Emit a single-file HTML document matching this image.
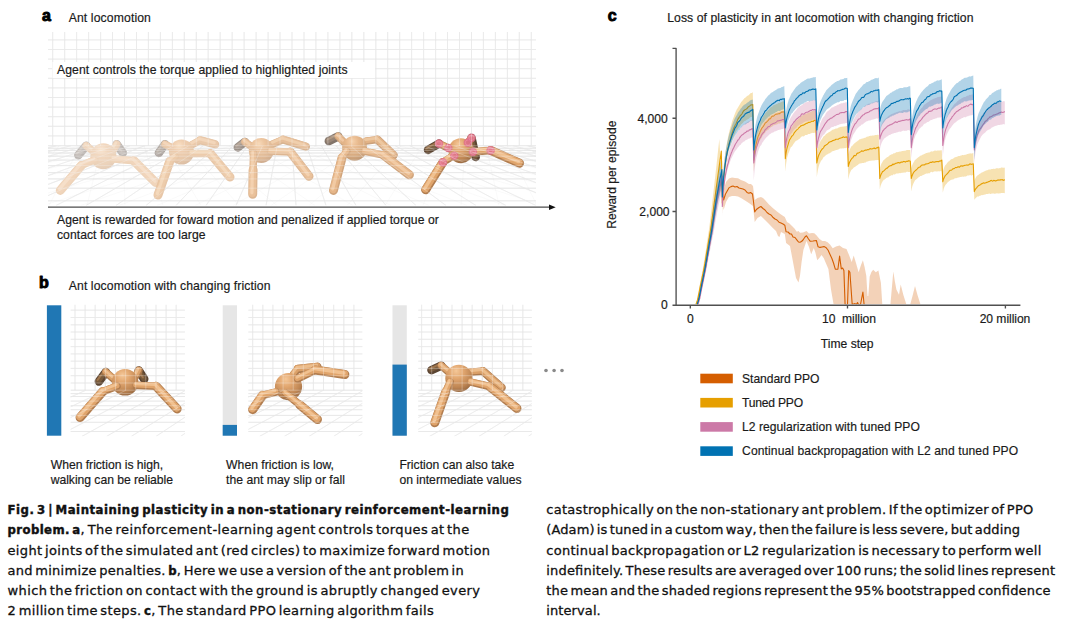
<!DOCTYPE html>
<html lang="en"><head><meta charset="utf-8"><title>Fig. 3 | Maintaining plasticity in a non-stationary reinforcement-learning problem</title>
<style>html,body{margin:0;padding:0;background:#fff}body{width:1080px;height:639px;overflow:hidden;position:relative}svg{position:absolute;left:0;top:0;display:block}text{font-family:"Liberation Sans", Arial, Helvetica, sans-serif;white-space:pre;stroke:#1a1a1a;stroke-width:0.18px}text.cap{font-family:"DejaVu Sans", "Liberation Sans", sans-serif;word-spacing:-2px;stroke:#111;stroke-width:0.3px}text.cap .b{font-family:"DejaVu Sans Condensed", "DejaVu Sans", "Liberation Sans", sans-serif;font-weight:bold;stroke-width:0.4px}</style></head><body>
<svg width="1080" height="639" viewBox="0 0 1080 639">
<defs>
<filter id="bl2" filterUnits="userSpaceOnUse" x="0" y="100" width="600" height="360"><feGaussianBlur stdDeviation="0.45"/></filter>
<filter id="bl" filterUnits="userSpaceOnUse" x="0" y="100" width="600" height="360"><feGaussianBlur stdDeviation="0.7"/></filter>
</defs>
<text x="41.90" y="20.90" font-size="16" textLength="9.00" lengthAdjust="spacing" font-weight="bold" fill="#000" style="stroke:#000;stroke-width:0.95px;stroke-linejoin:round">a</text>
<text x="68.70" y="22.00" font-size="12.2" textLength="82.20" lengthAdjust="spacing" fill="#1a1a1a" >Ant locomotion</text>
<path d="M52.7 32V146M64.7 32V146M76.6 32V146M88.6 32V146M100.6 32V146M112.5 32V146M124.5 32V146M136.5 32V146M148.4 32V146M160.4 32V146M172.4 32V146M184.3 32V146M196.3 32V146M208.2 32V146M220.2 32V146M232.2 32V146M244.1 32V146M256.1 32V146M268.1 32V146M280.0 32V146M292.0 32V146M304.0 32V146M315.9 32V146M327.9 32V146M339.9 32V146M351.8 32V146M363.8 32V146M375.8 32V146M387.7 32V146M399.7 32V146M411.6 32V146M423.6 32V146M435.6 32V146M447.5 32V146M459.5 32V146M471.5 32V146M483.4 32V146M495.4 32V146M507.4 32V146M519.3 32V146M531.3 32V146M48 39.9H536M48 49.5H536M48 59.1H536M48 68.7H536M48 78.3H536M48 87.9H536M48 97.5H536M48 107.1H536M48 116.7H536M48 126.3H536M48 135.9H536" stroke="#c4c4c4" stroke-opacity="0.472" stroke-width="1" fill="none"/>
<clipPath id="ga"><rect x="48" y="145.7" width="488" height="59.80000000000001"/></clipPath>
<path d="M48 145.7H536M48 148.3H536M48 150.4H536M48 153.0H536M48 156.2H536M48 160.1H536M48 165.6H536M48 172.6H536M48 178.9H536M48 188.2H536M48 200.8H536" stroke="#c4c4c4" stroke-opacity="0.519" stroke-width="1" fill="none"/>
<path d="M56.2 145.7L-184.0 205.5M70.9 145.7L-154.0 205.5M85.7 145.7L-124.0 205.5M100.4 145.7L-94.0 205.5M115.1 145.7L-64.0 205.5M129.9 145.7L-34.0 205.5M144.6 145.7L-4.0 205.5M159.3 145.7L26.0 205.5M174.1 145.7L56.0 205.5M188.8 145.7L86.0 205.5M203.5 145.7L116.0 205.5M218.3 145.7L146.0 205.5M233.0 145.7L176.0 205.5M247.7 145.7L206.0 205.5M262.5 145.7L236.0 205.5M277.2 145.7L266.0 205.5M291.9 145.7L296.0 205.5M306.7 145.7L326.0 205.5M321.4 145.7L356.0 205.5M336.1 145.7L386.0 205.5M350.9 145.7L416.0 205.5M365.6 145.7L446.0 205.5M380.3 145.7L476.0 205.5M395.1 145.7L506.0 205.5M409.8 145.7L536.0 205.5M424.5 145.7L566.0 205.5M439.2 145.7L596.0 205.5M454.0 145.7L626.0 205.5M468.7 145.7L656.0 205.5M483.4 145.7L686.0 205.5M498.2 145.7L716.0 205.5M512.9 145.7L746.0 205.5M527.6 145.7L776.0 205.5" stroke="#c4c4c4" stroke-opacity="0.448" stroke-width="0.9" fill="none" clip-path="url(#ga)"/>
<clipPath id="ga2"><rect x="48" y="145.7" width="488" height="59.80000000000001"/></clipPath>
<path d="M59.1 145.7L11.0 205.5M80.3 145.7L49.0 205.5M101.6 145.7L87.0 205.5M122.8 145.7L125.0 205.5M144.0 145.7L163.0 205.5M165.3 145.7L201.0 205.5M186.5 145.7L239.0 205.5M207.7 145.7L277.0 205.5M228.9 145.7L315.0 205.5M250.2 145.7L353.0 205.5M271.4 145.7L391.0 205.5M292.6 145.7L429.0 205.5M313.9 145.7L467.0 205.5M335.1 145.7L505.0 205.5M356.3 145.7L543.0 205.5M377.5 145.7L581.0 205.5M398.8 145.7L619.0 205.5M420.0 145.7L657.0 205.5M441.2 145.7L695.0 205.5M462.5 145.7L733.0 205.5M483.7 145.7L771.0 205.5M504.9 145.7L809.0 205.5M526.2 145.7L847.0 205.5" stroke="#c4c4c4" stroke-opacity="0.100" stroke-width="0.9" fill="none" clip-path="url(#ga2)"/>
<clipPath id="ga3"><rect x="48" y="145.7" width="488" height="59.80000000000001"/></clipPath>
<path d="M61.6 145.7L-261.0 205.5M82.8 145.7L-223.0 205.5M104.1 145.7L-185.0 205.5M125.3 145.7L-147.0 205.5M146.5 145.7L-109.0 205.5M167.8 145.7L-71.0 205.5M189.0 145.7L-33.0 205.5M210.2 145.7L5.0 205.5M231.4 145.7L43.0 205.5M252.7 145.7L81.0 205.5M273.9 145.7L119.0 205.5M295.1 145.7L157.0 205.5M316.4 145.7L195.0 205.5M337.6 145.7L233.0 205.5M358.8 145.7L271.0 205.5M380.1 145.7L309.0 205.5M401.3 145.7L347.0 205.5M422.5 145.7L385.0 205.5M443.7 145.7L423.0 205.5M465.0 145.7L461.0 205.5M486.2 145.7L499.0 205.5M507.4 145.7L537.0 205.5M528.7 145.7L575.0 205.5" stroke="#c4c4c4" stroke-opacity="0.100" stroke-width="0.9" fill="none" clip-path="url(#ga3)"/>
<g opacity="0.86">
<path d="M86.2 145.8L78.3 155.2" stroke="#b1aaa5" stroke-width="8.5" stroke-linecap="round" stroke-linejoin="round" fill="none"/>
<path d="M86.2 145.8L78.3 155.2" stroke="#bdb5b0" stroke-width="5.1" stroke-linecap="round" stroke-linejoin="round" fill="none" transform="translate(-0.5,-0.6)" filter="url(#bl2)"/>
<path d="M86.2 145.8L78.3 155.2" stroke="#d1c8c0" stroke-opacity="0.55" stroke-width="1.9" stroke-linecap="round" stroke-linejoin="round" fill="none" transform="translate(-1.3,-1.6)" filter="url(#bl)"/>
<path d="M93.2 151.3L86.2 145.8" stroke="#e7c9ad" stroke-width="7.5" stroke-linecap="round" stroke-linejoin="round" fill="none"/>
<path d="M93.2 151.3L86.2 145.8" stroke="#edceb0" stroke-width="5.8" stroke-linecap="round" stroke-linejoin="round" fill="none" transform="translate(-0.35,-0.75)" filter="url(#bl2)"/>
<path d="M93.2 151.3L86.2 145.8" stroke="#f5dbc1" stroke-opacity="0.85" stroke-width="2.7" stroke-linecap="round" stroke-linejoin="round" fill="none" transform="translate(-0.8,-1.5)" filter="url(#bl)"/>
<path d="M116.7 144.3L122.9 152.9" stroke="#b1aaa5" stroke-width="8.5" stroke-linecap="round" stroke-linejoin="round" fill="none"/>
<path d="M116.7 144.3L122.9 152.9" stroke="#bdb5b0" stroke-width="5.1" stroke-linecap="round" stroke-linejoin="round" fill="none" transform="translate(-0.5,-0.6)" filter="url(#bl2)"/>
<path d="M116.7 144.3L122.9 152.9" stroke="#d1c8c0" stroke-opacity="0.55" stroke-width="1.9" stroke-linecap="round" stroke-linejoin="round" fill="none" transform="translate(-1.3,-1.6)" filter="url(#bl)"/>
<path d="M113.6 149.7L116.7 144.3" stroke="#e7c9ad" stroke-width="7.5" stroke-linecap="round" stroke-linejoin="round" fill="none"/>
<path d="M113.6 149.7L116.7 144.3" stroke="#edceb0" stroke-width="5.8" stroke-linecap="round" stroke-linejoin="round" fill="none" transform="translate(-0.35,-0.75)" filter="url(#bl2)"/>
<path d="M113.6 149.7L116.7 144.3" stroke="#f5dbc1" stroke-opacity="0.85" stroke-width="2.7" stroke-linecap="round" stroke-linejoin="round" fill="none" transform="translate(-0.8,-1.5)" filter="url(#bl)"/>
<radialGradient id="a1s" cx="0.42" cy="0.30" r="0.78" fx="0.40" fy="0.22"><stop offset="0" stop-color="#fae2c9"/><stop offset="0.32" stop-color="#f0d1b4"/><stop offset="0.7" stop-color="#e9ccb0"/><stop offset="1" stop-color="#ddc2ab"/></radialGradient>
<circle cx="103.4" cy="156.3" r="13" fill="url(#a1s)"/>
<path d="M94.8 159.9L81.5 165.4" stroke="#ebccae" stroke-width="7.5" stroke-linecap="round" stroke-linejoin="round" fill="none"/>
<path d="M81.5 165.4L60.3 190.4" stroke="#ebccae" stroke-width="9.0" stroke-linecap="round" stroke-linejoin="round" fill="none"/>
<path d="M94.8 159.9L81.5 165.4" stroke="#efcfb1" stroke-width="5.8" stroke-linecap="round" stroke-linejoin="round" fill="none" transform="translate(-0.35,-0.75)" filter="url(#bl2)"/>
<path d="M81.5 165.4L60.3 190.4" stroke="#efcfb1" stroke-width="7.0" stroke-linecap="round" stroke-linejoin="round" fill="none" transform="translate(-0.35,-0.75)" filter="url(#bl2)"/>
<path d="M94.8 159.9L81.5 165.4" stroke="#f6dcc3" stroke-opacity="0.85" stroke-width="2.7" stroke-linecap="round" stroke-linejoin="round" fill="none" transform="translate(-0.8,-1.5)" filter="url(#bl)"/>
<path d="M81.5 165.4L60.3 190.4" stroke="#f6dcc3" stroke-opacity="0.85" stroke-width="3.2" stroke-linecap="round" stroke-linejoin="round" fill="none" transform="translate(-0.8,-1.5)" filter="url(#bl)"/>
<path d="M113.6 159.1L133.9 160.7" stroke="#ebccae" stroke-width="7.5" stroke-linecap="round" stroke-linejoin="round" fill="none"/>
<path d="M133.9 160.7L155.8 182.6" stroke="#ebccae" stroke-width="9.0" stroke-linecap="round" stroke-linejoin="round" fill="none"/>
<path d="M113.6 159.1L133.9 160.7" stroke="#efcfb1" stroke-width="5.8" stroke-linecap="round" stroke-linejoin="round" fill="none" transform="translate(-0.35,-0.75)" filter="url(#bl2)"/>
<path d="M133.9 160.7L155.8 182.6" stroke="#efcfb1" stroke-width="7.0" stroke-linecap="round" stroke-linejoin="round" fill="none" transform="translate(-0.35,-0.75)" filter="url(#bl2)"/>
<path d="M113.6 159.1L133.9 160.7" stroke="#f6dcc3" stroke-opacity="0.85" stroke-width="2.7" stroke-linecap="round" stroke-linejoin="round" fill="none" transform="translate(-0.8,-1.5)" filter="url(#bl)"/>
<path d="M133.9 160.7L155.8 182.6" stroke="#f6dcc3" stroke-opacity="0.85" stroke-width="3.2" stroke-linecap="round" stroke-linejoin="round" fill="none" transform="translate(-0.8,-1.5)" filter="url(#bl)"/>
</g>
<g opacity="0.88">
<path d="M165.0 144.3L158.8 152.9" stroke="#9f9690" stroke-width="8.5" stroke-linecap="round" stroke-linejoin="round" fill="none"/>
<path d="M165.0 144.3L158.8 152.9" stroke="#aea49c" stroke-width="5.1" stroke-linecap="round" stroke-linejoin="round" fill="none" transform="translate(-0.5,-0.6)" filter="url(#bl2)"/>
<path d="M165.0 144.3L158.8 152.9" stroke="#c9bcb0" stroke-opacity="0.55" stroke-width="1.9" stroke-linecap="round" stroke-linejoin="round" fill="none" transform="translate(-1.3,-1.6)" filter="url(#bl)"/>
<path d="M171.3 147.4L165.0 144.3" stroke="#e0bc9a" stroke-width="7.5" stroke-linecap="round" stroke-linejoin="round" fill="none"/>
<path d="M171.3 147.4L165.0 144.3" stroke="#e9c39f" stroke-width="5.8" stroke-linecap="round" stroke-linejoin="round" fill="none" transform="translate(-0.35,-0.75)" filter="url(#bl2)"/>
<path d="M171.3 147.4L165.0 144.3" stroke="#f3d4b5" stroke-opacity="0.85" stroke-width="2.7" stroke-linecap="round" stroke-linejoin="round" fill="none" transform="translate(-0.8,-1.5)" filter="url(#bl)"/>
<path d="M200.3 140.3L215.1 144.3" stroke="#dfbb9a" stroke-width="8.3" stroke-linecap="round" stroke-linejoin="round" fill="none"/>
<path d="M191.6 145.0L200.3 140.3" stroke="#dfbb9a" stroke-width="7.5" stroke-linecap="round" stroke-linejoin="round" fill="none"/>
<path d="M200.3 140.3L215.1 144.3" stroke="#e8c29f" stroke-width="6.5" stroke-linecap="round" stroke-linejoin="round" fill="none" transform="translate(-0.35,-0.75)" filter="url(#bl2)"/>
<path d="M191.6 145.0L200.3 140.3" stroke="#e8c29f" stroke-width="5.8" stroke-linecap="round" stroke-linejoin="round" fill="none" transform="translate(-0.35,-0.75)" filter="url(#bl2)"/>
<path d="M200.3 140.3L215.1 144.3" stroke="#f3d3b4" stroke-opacity="0.85" stroke-width="3.0" stroke-linecap="round" stroke-linejoin="round" fill="none" transform="translate(-0.8,-1.5)" filter="url(#bl)"/>
<path d="M191.6 145.0L200.3 140.3" stroke="#f3d3b4" stroke-opacity="0.85" stroke-width="2.7" stroke-linecap="round" stroke-linejoin="round" fill="none" transform="translate(-0.8,-1.5)" filter="url(#bl)"/>
<radialGradient id="a2s" cx="0.42" cy="0.30" r="0.78" fx="0.40" fy="0.22"><stop offset="0" stop-color="#f9dcbd"/><stop offset="0.32" stop-color="#edc7a4"/><stop offset="0.7" stop-color="#e4c09e"/><stop offset="1" stop-color="#d2b297"/></radialGradient>
<circle cx="181.5" cy="152.1" r="12.5" fill="url(#a2s)"/>
<path d="M175.2 156.8L169.7 161.5" stroke="#e4bf9c" stroke-width="7.5" stroke-linecap="round" stroke-linejoin="round" fill="none"/>
<path d="M169.7 161.5L158.0 195.1" stroke="#e4bf9c" stroke-width="9.0" stroke-linecap="round" stroke-linejoin="round" fill="none"/>
<path d="M175.2 156.8L169.7 161.5" stroke="#ebc5a0" stroke-width="5.8" stroke-linecap="round" stroke-linejoin="round" fill="none" transform="translate(-0.35,-0.75)" filter="url(#bl2)"/>
<path d="M169.7 161.5L158.0 195.1" stroke="#ebc5a0" stroke-width="7.0" stroke-linecap="round" stroke-linejoin="round" fill="none" transform="translate(-0.35,-0.75)" filter="url(#bl2)"/>
<path d="M175.2 156.8L169.7 161.5" stroke="#f5d6b6" stroke-opacity="0.85" stroke-width="2.7" stroke-linecap="round" stroke-linejoin="round" fill="none" transform="translate(-0.8,-1.5)" filter="url(#bl)"/>
<path d="M169.7 161.5L158.0 195.1" stroke="#f5d6b6" stroke-opacity="0.85" stroke-width="3.2" stroke-linecap="round" stroke-linejoin="round" fill="none" transform="translate(-0.8,-1.5)" filter="url(#bl)"/>
<path d="M191.6 153.6L210.4 153.6" stroke="#e4bf9c" stroke-width="7.5" stroke-linecap="round" stroke-linejoin="round" fill="none"/>
<path d="M210.4 153.6L230.0 177.1" stroke="#e4bf9c" stroke-width="9.0" stroke-linecap="round" stroke-linejoin="round" fill="none"/>
<path d="M191.6 153.6L210.4 153.6" stroke="#ebc5a0" stroke-width="5.8" stroke-linecap="round" stroke-linejoin="round" fill="none" transform="translate(-0.35,-0.75)" filter="url(#bl2)"/>
<path d="M210.4 153.6L230.0 177.1" stroke="#ebc5a0" stroke-width="7.0" stroke-linecap="round" stroke-linejoin="round" fill="none" transform="translate(-0.35,-0.75)" filter="url(#bl2)"/>
<path d="M191.6 153.6L210.4 153.6" stroke="#f5d6b6" stroke-opacity="0.85" stroke-width="2.7" stroke-linecap="round" stroke-linejoin="round" fill="none" transform="translate(-0.8,-1.5)" filter="url(#bl)"/>
<path d="M210.4 153.6L230.0 177.1" stroke="#f5d6b6" stroke-opacity="0.85" stroke-width="3.2" stroke-linecap="round" stroke-linejoin="round" fill="none" transform="translate(-0.8,-1.5)" filter="url(#bl)"/>
</g>
<g opacity="0.9">
<path d="M244.9 141.9L237.8 147.4" stroke="#8d8178" stroke-width="8.5" stroke-linecap="round" stroke-linejoin="round" fill="none"/>
<path d="M244.9 141.9L237.8 147.4" stroke="#9f9085" stroke-width="5.1" stroke-linecap="round" stroke-linejoin="round" fill="none" transform="translate(-0.5,-0.6)" filter="url(#bl2)"/>
<path d="M244.9 141.9L237.8 147.4" stroke="#c4ae9b" stroke-opacity="0.55" stroke-width="1.9" stroke-linecap="round" stroke-linejoin="round" fill="none" transform="translate(-1.3,-1.6)" filter="url(#bl)"/>
<path d="M250.3 145.8L244.9 141.9" stroke="#d6ac86" stroke-width="7.5" stroke-linecap="round" stroke-linejoin="round" fill="none"/>
<path d="M250.3 145.8L244.9 141.9" stroke="#e5b98f" stroke-width="5.8" stroke-linecap="round" stroke-linejoin="round" fill="none" transform="translate(-0.35,-0.75)" filter="url(#bl2)"/>
<path d="M250.3 145.8L244.9 141.9" stroke="#f2cea9" stroke-opacity="0.85" stroke-width="2.7" stroke-linecap="round" stroke-linejoin="round" fill="none" transform="translate(-0.8,-1.5)" filter="url(#bl)"/>
<path d="M283.2 139.6L305.9 146.6" stroke="#d3ab85" stroke-width="8.3" stroke-linecap="round" stroke-linejoin="round" fill="none"/>
<path d="M272.3 144.3L283.2 139.6" stroke="#d3ab85" stroke-width="7.5" stroke-linecap="round" stroke-linejoin="round" fill="none"/>
<path d="M283.2 139.6L305.9 146.6" stroke="#e4b88e" stroke-width="6.5" stroke-linecap="round" stroke-linejoin="round" fill="none" transform="translate(-0.35,-0.75)" filter="url(#bl2)"/>
<path d="M272.3 144.3L283.2 139.6" stroke="#e4b88e" stroke-width="5.8" stroke-linecap="round" stroke-linejoin="round" fill="none" transform="translate(-0.35,-0.75)" filter="url(#bl2)"/>
<path d="M283.2 139.6L305.9 146.6" stroke="#f1cda8" stroke-opacity="0.85" stroke-width="3.0" stroke-linecap="round" stroke-linejoin="round" fill="none" transform="translate(-0.8,-1.5)" filter="url(#bl)"/>
<path d="M272.3 144.3L283.2 139.6" stroke="#f1cda8" stroke-opacity="0.85" stroke-width="2.7" stroke-linecap="round" stroke-linejoin="round" fill="none" transform="translate(-0.8,-1.5)" filter="url(#bl)"/>
<radialGradient id="a3s" cx="0.42" cy="0.30" r="0.78" fx="0.40" fy="0.22"><stop offset="0" stop-color="#f8d6b2"/><stop offset="0.32" stop-color="#eabe94"/><stop offset="0.7" stop-color="#dbb18a"/><stop offset="1" stop-color="#c39e80"/></radialGradient>
<circle cx="261.3" cy="150.5" r="12.5" fill="url(#a3s)"/>
<path d="M253.5 153.6L253.1 170.0" stroke="#daaf87" stroke-width="7.5" stroke-linecap="round" stroke-linejoin="round" fill="none"/>
<path d="M253.1 170.0L252.7 194.3" stroke="#daaf87" stroke-width="9.0" stroke-linecap="round" stroke-linejoin="round" fill="none"/>
<path d="M253.5 153.6L253.1 170.0" stroke="#e8bb90" stroke-width="5.8" stroke-linecap="round" stroke-linejoin="round" fill="none" transform="translate(-0.35,-0.75)" filter="url(#bl2)"/>
<path d="M253.1 170.0L252.7 194.3" stroke="#e8bb90" stroke-width="7.0" stroke-linecap="round" stroke-linejoin="round" fill="none" transform="translate(-0.35,-0.75)" filter="url(#bl2)"/>
<path d="M253.5 153.6L253.1 170.0" stroke="#f4d0ab" stroke-opacity="0.85" stroke-width="2.7" stroke-linecap="round" stroke-linejoin="round" fill="none" transform="translate(-0.8,-1.5)" filter="url(#bl)"/>
<path d="M253.1 170.0L252.7 194.3" stroke="#f4d0ab" stroke-opacity="0.85" stroke-width="3.2" stroke-linecap="round" stroke-linejoin="round" fill="none" transform="translate(-0.8,-1.5)" filter="url(#bl)"/>
<path d="M270.7 151.3L290.3 152.1" stroke="#daaf87" stroke-width="7.5" stroke-linecap="round" stroke-linejoin="round" fill="none"/>
<path d="M290.3 152.1L309.0 176.3" stroke="#daaf87" stroke-width="9.0" stroke-linecap="round" stroke-linejoin="round" fill="none"/>
<path d="M270.7 151.3L290.3 152.1" stroke="#e8bb90" stroke-width="5.8" stroke-linecap="round" stroke-linejoin="round" fill="none" transform="translate(-0.35,-0.75)" filter="url(#bl2)"/>
<path d="M290.3 152.1L309.0 176.3" stroke="#e8bb90" stroke-width="7.0" stroke-linecap="round" stroke-linejoin="round" fill="none" transform="translate(-0.35,-0.75)" filter="url(#bl2)"/>
<path d="M270.7 151.3L290.3 152.1" stroke="#f4d0ab" stroke-opacity="0.85" stroke-width="2.7" stroke-linecap="round" stroke-linejoin="round" fill="none" transform="translate(-0.8,-1.5)" filter="url(#bl)"/>
<path d="M290.3 152.1L309.0 176.3" stroke="#f4d0ab" stroke-opacity="0.85" stroke-width="3.2" stroke-linecap="round" stroke-linejoin="round" fill="none" transform="translate(-0.8,-1.5)" filter="url(#bl)"/>
</g>
<g opacity="0.9">
<path d="M338.2 136.4L328.8 141.1" stroke="#756559" stroke-width="8.5" stroke-linecap="round" stroke-linejoin="round" fill="none"/>
<path d="M338.2 136.4L328.8 141.1" stroke="#8d7867" stroke-width="5.1" stroke-linecap="round" stroke-linejoin="round" fill="none" transform="translate(-0.5,-0.6)" filter="url(#bl2)"/>
<path d="M338.2 136.4L328.8 141.1" stroke="#bd9e81" stroke-opacity="0.55" stroke-width="1.9" stroke-linecap="round" stroke-linejoin="round" fill="none" transform="translate(-1.3,-1.6)" filter="url(#bl)"/>
<path d="M343.6 141.9L338.2 136.4" stroke="#c7986d" stroke-width="7.5" stroke-linecap="round" stroke-linejoin="round" fill="none"/>
<path d="M343.6 141.9L338.2 136.4" stroke="#e1ad7b" stroke-width="5.8" stroke-linecap="round" stroke-linejoin="round" fill="none" transform="translate(-0.35,-0.75)" filter="url(#bl2)"/>
<path d="M343.6 141.9L338.2 136.4" stroke="#f1c69c" stroke-opacity="0.85" stroke-width="2.7" stroke-linecap="round" stroke-linejoin="round" fill="none" transform="translate(-0.8,-1.5)" filter="url(#bl)"/>
<path d="M377.3 139.6L393.7 155.2" stroke="#c5966c" stroke-width="8.3" stroke-linecap="round" stroke-linejoin="round" fill="none"/>
<path d="M366.3 141.1L377.3 139.6" stroke="#c5966c" stroke-width="7.5" stroke-linecap="round" stroke-linejoin="round" fill="none"/>
<path d="M377.3 139.6L393.7 155.2" stroke="#dfab7a" stroke-width="6.5" stroke-linecap="round" stroke-linejoin="round" fill="none" transform="translate(-0.35,-0.75)" filter="url(#bl2)"/>
<path d="M366.3 141.1L377.3 139.6" stroke="#dfab7a" stroke-width="5.8" stroke-linecap="round" stroke-linejoin="round" fill="none" transform="translate(-0.35,-0.75)" filter="url(#bl2)"/>
<path d="M377.3 139.6L393.7 155.2" stroke="#efc59a" stroke-opacity="0.85" stroke-width="3.0" stroke-linecap="round" stroke-linejoin="round" fill="none" transform="translate(-0.8,-1.5)" filter="url(#bl)"/>
<path d="M366.3 141.1L377.3 139.6" stroke="#efc59a" stroke-opacity="0.85" stroke-width="2.7" stroke-linecap="round" stroke-linejoin="round" fill="none" transform="translate(-0.8,-1.5)" filter="url(#bl)"/>
<radialGradient id="a4s" cx="0.42" cy="0.30" r="0.78" fx="0.40" fy="0.22"><stop offset="0" stop-color="#f6cea5"/><stop offset="0.32" stop-color="#e6b281"/><stop offset="0.7" stop-color="#d1a071"/><stop offset="1" stop-color="#af8663"/></radialGradient>
<circle cx="354.6" cy="148.2" r="12.5" fill="url(#a4s)"/>
<path d="M346.8 151.3L342.1 157.6" stroke="#cc9b6e" stroke-width="7.5" stroke-linecap="round" stroke-linejoin="round" fill="none"/>
<path d="M342.1 157.6L333.5 190.4" stroke="#cc9b6e" stroke-width="9.0" stroke-linecap="round" stroke-linejoin="round" fill="none"/>
<path d="M346.8 151.3L342.1 157.6" stroke="#e4af7d" stroke-width="5.8" stroke-linecap="round" stroke-linejoin="round" fill="none" transform="translate(-0.35,-0.75)" filter="url(#bl2)"/>
<path d="M342.1 157.6L333.5 190.4" stroke="#e4af7d" stroke-width="7.0" stroke-linecap="round" stroke-linejoin="round" fill="none" transform="translate(-0.35,-0.75)" filter="url(#bl2)"/>
<path d="M346.8 151.3L342.1 157.6" stroke="#f3c99f" stroke-opacity="0.85" stroke-width="2.7" stroke-linecap="round" stroke-linejoin="round" fill="none" transform="translate(-0.8,-1.5)" filter="url(#bl)"/>
<path d="M342.1 157.6L333.5 190.4" stroke="#f3c99f" stroke-opacity="0.85" stroke-width="3.2" stroke-linecap="round" stroke-linejoin="round" fill="none" transform="translate(-0.8,-1.5)" filter="url(#bl)"/>
<path d="M364.8 151.3L383.6 155.2" stroke="#cc9b6e" stroke-width="7.5" stroke-linecap="round" stroke-linejoin="round" fill="none"/>
<path d="M383.6 155.2L409.4 174.8" stroke="#cc9b6e" stroke-width="9.0" stroke-linecap="round" stroke-linejoin="round" fill="none"/>
<path d="M364.8 151.3L383.6 155.2" stroke="#e4af7d" stroke-width="5.8" stroke-linecap="round" stroke-linejoin="round" fill="none" transform="translate(-0.35,-0.75)" filter="url(#bl2)"/>
<path d="M383.6 155.2L409.4 174.8" stroke="#e4af7d" stroke-width="7.0" stroke-linecap="round" stroke-linejoin="round" fill="none" transform="translate(-0.35,-0.75)" filter="url(#bl2)"/>
<path d="M364.8 151.3L383.6 155.2" stroke="#f3c99f" stroke-opacity="0.85" stroke-width="2.7" stroke-linecap="round" stroke-linejoin="round" fill="none" transform="translate(-0.8,-1.5)" filter="url(#bl)"/>
<path d="M383.6 155.2L409.4 174.8" stroke="#f3c99f" stroke-opacity="0.85" stroke-width="3.2" stroke-linecap="round" stroke-linejoin="round" fill="none" transform="translate(-0.8,-1.5)" filter="url(#bl)"/>
</g>
<g opacity="0.9">
<path d="M439.0 143.6L428.0 149.9" stroke="#4a311c" stroke-width="8.5" stroke-linecap="round" stroke-linejoin="round" fill="none"/>
<path d="M439.0 143.6L428.0 149.9" stroke="#6b4828" stroke-width="5.1" stroke-linecap="round" stroke-linejoin="round" fill="none" transform="translate(-0.5,-0.6)" filter="url(#bl2)"/>
<path d="M439.0 143.6L428.0 149.9" stroke="#b98048" stroke-opacity="0.55" stroke-width="1.9" stroke-linecap="round" stroke-linejoin="round" fill="none" transform="translate(-1.3,-1.6)" filter="url(#bl)"/>
<path d="M448.3 148.0L439.0 143.6" stroke="#a56d3b" stroke-width="7.5" stroke-linecap="round" stroke-linejoin="round" fill="none"/>
<path d="M448.3 148.0L439.0 143.6" stroke="#d9985a" stroke-width="5.8" stroke-linecap="round" stroke-linejoin="round" fill="none" transform="translate(-0.35,-0.75)" filter="url(#bl2)"/>
<path d="M448.3 148.0L439.0 143.6" stroke="#f0bd88" stroke-opacity="0.85" stroke-width="2.7" stroke-linecap="round" stroke-linejoin="round" fill="none" transform="translate(-0.8,-1.5)" filter="url(#bl)"/>
<path d="M471.5 137.9L475.7 157.0" stroke="#4a311c" stroke-width="8.5" stroke-linecap="round" stroke-linejoin="round" fill="none"/>
<path d="M471.5 137.9L475.7 157.0" stroke="#6b4828" stroke-width="5.1" stroke-linecap="round" stroke-linejoin="round" fill="none" transform="translate(-0.5,-0.6)" filter="url(#bl2)"/>
<path d="M471.5 137.9L475.7 157.0" stroke="#b98048" stroke-opacity="0.55" stroke-width="1.9" stroke-linecap="round" stroke-linejoin="round" fill="none" transform="translate(-1.3,-1.6)" filter="url(#bl)"/>
<path d="M467.9 142.9L471.5 137.9" stroke="#a56d3b" stroke-width="7.5" stroke-linecap="round" stroke-linejoin="round" fill="none"/>
<path d="M467.9 142.9L471.5 137.9" stroke="#d9985a" stroke-width="5.8" stroke-linecap="round" stroke-linejoin="round" fill="none" transform="translate(-0.35,-0.75)" filter="url(#bl2)"/>
<path d="M467.9 142.9L471.5 137.9" stroke="#f0bd88" stroke-opacity="0.85" stroke-width="2.7" stroke-linecap="round" stroke-linejoin="round" fill="none" transform="translate(-0.8,-1.5)" filter="url(#bl)"/>
<radialGradient id="a5s" cx="0.42" cy="0.30" r="0.78" fx="0.40" fy="0.22"><stop offset="0" stop-color="#f4c28e"/><stop offset="0.32" stop-color="#e09f62"/><stop offset="0.7" stop-color="#b97a42"/><stop offset="1" stop-color="#7e4f27"/></radialGradient>
<circle cx="460.9" cy="150.7" r="12.5" fill="url(#a5s)"/>
<path d="M453.8 155.4L442.9 162.4" stroke="#a96f3c" stroke-width="7.5" stroke-linecap="round" stroke-linejoin="round" fill="none"/>
<path d="M442.9 162.4L425.6 189.8" stroke="#a96f3c" stroke-width="9.0" stroke-linecap="round" stroke-linejoin="round" fill="none"/>
<path d="M453.8 155.4L442.9 162.4" stroke="#dd9b5c" stroke-width="5.8" stroke-linecap="round" stroke-linejoin="round" fill="none" transform="translate(-0.35,-0.75)" filter="url(#bl2)"/>
<path d="M442.9 162.4L425.6 189.8" stroke="#dd9b5c" stroke-width="7.0" stroke-linecap="round" stroke-linejoin="round" fill="none" transform="translate(-0.35,-0.75)" filter="url(#bl2)"/>
<path d="M453.8 155.4L442.9 162.4" stroke="#f3c18c" stroke-opacity="0.85" stroke-width="2.7" stroke-linecap="round" stroke-linejoin="round" fill="none" transform="translate(-0.8,-1.5)" filter="url(#bl)"/>
<path d="M442.9 162.4L425.6 189.8" stroke="#f3c18c" stroke-opacity="0.85" stroke-width="3.2" stroke-linecap="round" stroke-linejoin="round" fill="none" transform="translate(-0.8,-1.5)" filter="url(#bl)"/>
<path d="M472.6 151.9L490.6 150.4" stroke="#a96f3c" stroke-width="7.5" stroke-linecap="round" stroke-linejoin="round" fill="none"/>
<path d="M490.6 150.4L519.5 163.2" stroke="#a96f3c" stroke-width="9.0" stroke-linecap="round" stroke-linejoin="round" fill="none"/>
<path d="M472.6 151.9L490.6 150.4" stroke="#dd9b5c" stroke-width="5.8" stroke-linecap="round" stroke-linejoin="round" fill="none" transform="translate(-0.35,-0.75)" filter="url(#bl2)"/>
<path d="M490.6 150.4L519.5 163.2" stroke="#dd9b5c" stroke-width="7.0" stroke-linecap="round" stroke-linejoin="round" fill="none" transform="translate(-0.35,-0.75)" filter="url(#bl2)"/>
<path d="M472.6 151.9L490.6 150.4" stroke="#f3c18c" stroke-opacity="0.85" stroke-width="2.7" stroke-linecap="round" stroke-linejoin="round" fill="none" transform="translate(-0.8,-1.5)" filter="url(#bl)"/>
<path d="M490.6 150.4L519.5 163.2" stroke="#f3c18c" stroke-opacity="0.85" stroke-width="3.2" stroke-linecap="round" stroke-linejoin="round" fill="none" transform="translate(-0.8,-1.5)" filter="url(#bl)"/>
<circle cx="439" cy="143.6" r="4.3" fill="#dc5a80" fill-opacity="0.78"/>
<circle cx="439" cy="143.6" r="2.6" fill="none" stroke="#f08aa6" stroke-opacity="0.55" stroke-width="1"/>
<circle cx="448.3" cy="148" r="4.3" fill="#dc5a80" fill-opacity="0.78"/>
<circle cx="448.3" cy="148" r="2.6" fill="none" stroke="#f08aa6" stroke-opacity="0.55" stroke-width="1"/>
<circle cx="454.3" cy="155.7" r="4.3" fill="#dc5a80" fill-opacity="0.78"/>
<circle cx="454.3" cy="155.7" r="2.6" fill="none" stroke="#f08aa6" stroke-opacity="0.55" stroke-width="1"/>
<circle cx="442.9" cy="162.4" r="4.3" fill="#dc5a80" fill-opacity="0.78"/>
<circle cx="442.9" cy="162.4" r="2.6" fill="none" stroke="#f08aa6" stroke-opacity="0.55" stroke-width="1"/>
<circle cx="467.9" cy="142.6" r="4.3" fill="#dc5a80" fill-opacity="0.78"/>
<circle cx="467.9" cy="142.6" r="2.6" fill="none" stroke="#f08aa6" stroke-opacity="0.55" stroke-width="1"/>
<circle cx="471.5" cy="137.9" r="4.3" fill="#dc5a80" fill-opacity="0.78"/>
<circle cx="471.5" cy="137.9" r="2.6" fill="none" stroke="#f08aa6" stroke-opacity="0.55" stroke-width="1"/>
<circle cx="472.9" cy="151.9" r="4.3" fill="#dc5a80" fill-opacity="0.78"/>
<circle cx="472.9" cy="151.9" r="2.6" fill="none" stroke="#f08aa6" stroke-opacity="0.55" stroke-width="1"/>
<circle cx="490.6" cy="150.4" r="4.3" fill="#dc5a80" fill-opacity="0.78"/>
<circle cx="490.6" cy="150.4" r="2.6" fill="none" stroke="#f08aa6" stroke-opacity="0.55" stroke-width="1"/>
</g>
<path d="M52.7 32V146M64.7 32V146M76.6 32V146M88.6 32V146M100.6 32V146M112.5 32V146M124.5 32V146M136.5 32V146M148.4 32V146M160.4 32V146M172.4 32V146M184.3 32V146M196.3 32V146M208.2 32V146M220.2 32V146M232.2 32V146M244.1 32V146M256.1 32V146M268.1 32V146M280.0 32V146M292.0 32V146M304.0 32V146M315.9 32V146M327.9 32V146M339.9 32V146M351.8 32V146M363.8 32V146M375.8 32V146M387.7 32V146M399.7 32V146M411.6 32V146M423.6 32V146M435.6 32V146M447.5 32V146M459.5 32V146M471.5 32V146M483.4 32V146M495.4 32V146M507.4 32V146M519.3 32V146M531.3 32V146M48 39.9H536M48 49.5H536M48 59.1H536M48 68.7H536M48 78.3H536M48 87.9H536M48 97.5H536M48 107.1H536M48 116.7H536M48 126.3H536M48 135.9H536" stroke="#fff" stroke-opacity="0.3" stroke-width="1" fill="none"/>
<path d="M48 145.7H536M48 148.3H536M48 150.4H536M48 153.0H536M48 156.2H536M48 160.1H536M48 165.6H536M48 172.6H536M48 178.9H536M48 188.2H536M48 200.8H536" stroke="#fff" stroke-opacity="0.3" stroke-width="1" fill="none"/>
<path d="M56.2 145.7L-184.0 205.5M70.9 145.7L-154.0 205.5M85.7 145.7L-124.0 205.5M100.4 145.7L-94.0 205.5M115.1 145.7L-64.0 205.5M129.9 145.7L-34.0 205.5M144.6 145.7L-4.0 205.5M159.3 145.7L26.0 205.5M174.1 145.7L56.0 205.5M188.8 145.7L86.0 205.5M203.5 145.7L116.0 205.5M218.3 145.7L146.0 205.5M233.0 145.7L176.0 205.5M247.7 145.7L206.0 205.5M262.5 145.7L236.0 205.5M277.2 145.7L266.0 205.5M291.9 145.7L296.0 205.5M306.7 145.7L326.0 205.5M321.4 145.7L356.0 205.5M336.1 145.7L386.0 205.5M350.9 145.7L416.0 205.5M365.6 145.7L446.0 205.5M380.3 145.7L476.0 205.5M395.1 145.7L506.0 205.5M409.8 145.7L536.0 205.5M424.5 145.7L566.0 205.5M439.2 145.7L596.0 205.5M454.0 145.7L626.0 205.5M468.7 145.7L656.0 205.5M483.4 145.7L686.0 205.5M498.2 145.7L716.0 205.5M512.9 145.7L746.0 205.5M527.6 145.7L776.0 205.5" stroke="#fff" stroke-opacity="0.30" stroke-width="0.9" fill="none" clip-path="url(#ga)"/>
<rect x="52.5" y="62" width="322.5" height="16" fill="#fff"/>
<text x="57.00" y="73.75" font-size="12.2" textLength="290.50" lengthAdjust="spacing" fill="#1a1a1a" >Agent controls the torque applied to highlighted joints</text>
<path d="M48 207.2H550" stroke="#4c4c4c" stroke-width="1.3" fill="none"/>
<path d="M555.7 207.2L549.0 204.4V210.0Z" fill="#111"/>
<text x="57.00" y="224.25" font-size="12.2" textLength="381.75" lengthAdjust="spacing" fill="#1a1a1a" >Agent is rewarded for foward motion and penalized if applied torque or</text>
<text x="57.00" y="239.00" font-size="12.2" textLength="148.50" lengthAdjust="spacing" fill="#1a1a1a" >contact forces are too large</text>
<text x="38.90" y="288.00" font-size="16" textLength="9.30" lengthAdjust="spacing" font-weight="bold" fill="#000" style="stroke:#000;stroke-width:0.95px;stroke-linejoin:round">b</text>
<text x="68.75" y="289.50" font-size="12.2" textLength="201.75" lengthAdjust="spacing" fill="#1a1a1a" >Ant locomotion with changing friction</text>
<rect x="46.9" y="305.3" width="14.4" height="130.4" fill="#2077b4"/>
<rect x="222.7" y="305.3" width="14.3" height="130.4" fill="#e6e6e6"/><rect x="222.7" y="424.9" width="14.3" height="10.8" fill="#2077b4"/>
<rect x="392.5" y="305.3" width="14.3" height="130.4" fill="#e6e6e6"/><rect x="392.5" y="364.6" width="14.3" height="71.1" fill="#2077b4"/>
<path d="M75.0 304.8V390.3M85.1 304.8V390.3M95.2 304.8V390.3M105.4 304.8V390.3M115.5 304.8V390.3M125.6 304.8V390.3M135.7 304.8V390.3M145.8 304.8V390.3M156.0 304.8V390.3M166.1 304.8V390.3M176.2 304.8V390.3M70.7 310.2H184.9M70.7 317.5H184.9M70.7 324.8H184.9M70.7 332.0H184.9M70.7 339.3H184.9M70.7 346.6H184.9M70.7 353.9H184.9M70.7 361.2H184.9M70.7 368.4H184.9M70.7 375.7H184.9M70.7 383.0H184.9" stroke="#c4c4c4" stroke-opacity="0.472" stroke-width="1" fill="none"/>
<clipPath id="gb0"><rect x="70.7" y="390.2" width="114.2" height="46.10000000000002"/></clipPath>
<path d="M70.7 390.2H184.9M70.7 393.6H184.9M70.7 396.5H184.9M70.7 401.1H184.9M70.7 405.7H184.9M70.7 409.7H184.9M70.7 415.4H184.9M70.7 422.3H184.9M70.7 431.5H184.9" stroke="#c4c4c4" stroke-opacity="0.519" stroke-width="1" fill="none"/>
<path d="M85.9 390.2L-16.8 436.3M105.9 390.2L7.9 436.3M125.9 390.2L32.6 436.3M145.8 390.2L57.3 436.3M165.8 390.2L82.0 436.3M185.8 390.2L106.7 436.3M205.8 390.2L131.4 436.3M225.8 390.2L156.1 436.3M245.7 390.2L180.8 436.3" stroke="#c4c4c4" stroke-opacity="0.448" stroke-width="0.9" fill="none" clip-path="url(#gb0)"/>
<path d="M252.7 304.8V390.3M262.8 304.8V390.3M272.9 304.8V390.3M283.1 304.8V390.3M293.2 304.8V390.3M303.3 304.8V390.3M313.4 304.8V390.3M323.5 304.8V390.3M333.7 304.8V390.3M343.8 304.8V390.3M353.9 304.8V390.3M248.4 310.2H362.3M248.4 317.5H362.3M248.4 324.8H362.3M248.4 332.0H362.3M248.4 339.3H362.3M248.4 346.6H362.3M248.4 353.9H362.3M248.4 361.2H362.3M248.4 368.4H362.3M248.4 375.7H362.3M248.4 383.0H362.3" stroke="#c4c4c4" stroke-opacity="0.472" stroke-width="1" fill="none"/>
<clipPath id="gb1"><rect x="248.4" y="390.2" width="113.9" height="46.10000000000002"/></clipPath>
<path d="M248.4 390.2H362.3M248.4 393.6H362.3M248.4 396.5H362.3M248.4 401.1H362.3M248.4 405.7H362.3M248.4 409.7H362.3M248.4 415.4H362.3M248.4 422.3H362.3M248.4 431.5H362.3" stroke="#c4c4c4" stroke-opacity="0.519" stroke-width="1" fill="none"/>
<path d="M263.6 390.2L160.9 436.3M283.6 390.2L185.6 436.3M303.6 390.2L210.3 436.3M323.5 390.2L235.0 436.3M343.5 390.2L259.7 436.3M363.5 390.2L284.4 436.3M383.5 390.2L309.1 436.3M403.5 390.2L333.8 436.3M423.4 390.2L358.5 436.3" stroke="#c4c4c4" stroke-opacity="0.448" stroke-width="0.9" fill="none" clip-path="url(#gb1)"/>
<path d="M421.6 304.8V390.3M431.7 304.8V390.3M441.8 304.8V390.3M452.0 304.8V390.3M462.1 304.8V390.3M472.2 304.8V390.3M482.3 304.8V390.3M492.4 304.8V390.3M502.6 304.8V390.3M512.7 304.8V390.3M522.8 304.8V390.3M418.3 310.2H531.8M418.3 317.5H531.8M418.3 324.8H531.8M418.3 332.0H531.8M418.3 339.3H531.8M418.3 346.6H531.8M418.3 353.9H531.8M418.3 361.2H531.8M418.3 368.4H531.8M418.3 375.7H531.8M418.3 383.0H531.8" stroke="#c4c4c4" stroke-opacity="0.472" stroke-width="1" fill="none"/>
<clipPath id="gb2"><rect x="418.3" y="390.2" width="113.49999999999994" height="46.10000000000002"/></clipPath>
<path d="M418.3 390.2H531.8M418.3 393.6H531.8M418.3 396.5H531.8M418.3 401.1H531.8M418.3 405.7H531.8M418.3 409.7H531.8M418.3 415.4H531.8M418.3 422.3H531.8M418.3 431.5H531.8" stroke="#c4c4c4" stroke-opacity="0.519" stroke-width="1" fill="none"/>
<path d="M433.5 390.2L330.8 436.3M453.5 390.2L355.5 436.3M473.5 390.2L380.2 436.3M493.4 390.2L404.9 436.3M513.4 390.2L429.6 436.3M533.4 390.2L454.3 436.3M553.4 390.2L479.0 436.3M573.4 390.2L503.7 436.3M593.3 390.2L528.4 436.3" stroke="#c4c4c4" stroke-opacity="0.448" stroke-width="0.9" fill="none" clip-path="url(#gb2)"/>
<g opacity="0.9">
<path d="M105.9 372.1L98.9 381.5" stroke="#4a311c" stroke-width="8.6" stroke-linecap="round" stroke-linejoin="round" fill="none"/>
<path d="M105.9 372.1L98.9 381.5" stroke="#6b4828" stroke-width="5.2" stroke-linecap="round" stroke-linejoin="round" fill="none" transform="translate(-0.5,-0.6)" filter="url(#bl2)"/>
<path d="M105.9 372.1L98.9 381.5" stroke="#b98048" stroke-opacity="0.55" stroke-width="1.9" stroke-linecap="round" stroke-linejoin="round" fill="none" transform="translate(-1.3,-1.6)" filter="url(#bl)"/>
<path d="M112.9 378.3L105.9 372.1" stroke="#a56d3b" stroke-width="7.6" stroke-linecap="round" stroke-linejoin="round" fill="none"/>
<path d="M112.9 378.3L105.9 372.1" stroke="#d9985a" stroke-width="5.9" stroke-linecap="round" stroke-linejoin="round" fill="none" transform="translate(-0.35,-0.75)" filter="url(#bl2)"/>
<path d="M112.9 378.3L105.9 372.1" stroke="#f0bd88" stroke-opacity="0.85" stroke-width="2.7" stroke-linecap="round" stroke-linejoin="round" fill="none" transform="translate(-0.8,-1.5)" filter="url(#bl)"/>
<path d="M138.8 370.5L144.2 379.1" stroke="#4a311c" stroke-width="8.6" stroke-linecap="round" stroke-linejoin="round" fill="none"/>
<path d="M138.8 370.5L144.2 379.1" stroke="#6b4828" stroke-width="5.2" stroke-linecap="round" stroke-linejoin="round" fill="none" transform="translate(-0.5,-0.6)" filter="url(#bl2)"/>
<path d="M138.8 370.5L144.2 379.1" stroke="#b98048" stroke-opacity="0.55" stroke-width="1.9" stroke-linecap="round" stroke-linejoin="round" fill="none" transform="translate(-1.3,-1.6)" filter="url(#bl)"/>
<path d="M136.4 375.2L138.8 370.5" stroke="#a56d3b" stroke-width="7.6" stroke-linecap="round" stroke-linejoin="round" fill="none"/>
<path d="M136.4 375.2L138.8 370.5" stroke="#d9985a" stroke-width="5.9" stroke-linecap="round" stroke-linejoin="round" fill="none" transform="translate(-0.35,-0.75)" filter="url(#bl2)"/>
<path d="M136.4 375.2L138.8 370.5" stroke="#f0bd88" stroke-opacity="0.85" stroke-width="2.7" stroke-linecap="round" stroke-linejoin="round" fill="none" transform="translate(-0.8,-1.5)" filter="url(#bl)"/>
<radialGradient id="b1s" cx="0.42" cy="0.30" r="0.78" fx="0.40" fy="0.22"><stop offset="0" stop-color="#f4c28e"/><stop offset="0.32" stop-color="#e09f62"/><stop offset="0.7" stop-color="#b97a42"/><stop offset="1" stop-color="#7e4f27"/></radialGradient>
<circle cx="125.1" cy="382.3" r="13.3" fill="url(#b1s)"/>
<path d="M116.9 386.2L102.8 391.6" stroke="#a96f3c" stroke-width="7.6" stroke-linecap="round" stroke-linejoin="round" fill="none"/>
<path d="M102.8 391.6L80.1 417.5" stroke="#a96f3c" stroke-width="9.1" stroke-linecap="round" stroke-linejoin="round" fill="none"/>
<path d="M116.9 386.2L102.8 391.6" stroke="#dd9b5c" stroke-width="5.9" stroke-linecap="round" stroke-linejoin="round" fill="none" transform="translate(-0.35,-0.75)" filter="url(#bl2)"/>
<path d="M102.8 391.6L80.1 417.5" stroke="#dd9b5c" stroke-width="7.1" stroke-linecap="round" stroke-linejoin="round" fill="none" transform="translate(-0.35,-0.75)" filter="url(#bl2)"/>
<path d="M116.9 386.2L102.8 391.6" stroke="#f3c18c" stroke-opacity="0.85" stroke-width="2.7" stroke-linecap="round" stroke-linejoin="round" fill="none" transform="translate(-0.8,-1.5)" filter="url(#bl)"/>
<path d="M102.8 391.6L80.1 417.5" stroke="#f3c18c" stroke-opacity="0.85" stroke-width="3.3" stroke-linecap="round" stroke-linejoin="round" fill="none" transform="translate(-0.8,-1.5)" filter="url(#bl)"/>
<path d="M136.4 385.4L156.0 386.2" stroke="#a96f3c" stroke-width="7.6" stroke-linecap="round" stroke-linejoin="round" fill="none"/>
<path d="M156.0 386.2L177.1 408.9" stroke="#a96f3c" stroke-width="9.1" stroke-linecap="round" stroke-linejoin="round" fill="none"/>
<path d="M136.4 385.4L156.0 386.2" stroke="#dd9b5c" stroke-width="5.9" stroke-linecap="round" stroke-linejoin="round" fill="none" transform="translate(-0.35,-0.75)" filter="url(#bl2)"/>
<path d="M156.0 386.2L177.1 408.9" stroke="#dd9b5c" stroke-width="7.1" stroke-linecap="round" stroke-linejoin="round" fill="none" transform="translate(-0.35,-0.75)" filter="url(#bl2)"/>
<path d="M136.4 385.4L156.0 386.2" stroke="#f3c18c" stroke-opacity="0.85" stroke-width="2.7" stroke-linecap="round" stroke-linejoin="round" fill="none" transform="translate(-0.8,-1.5)" filter="url(#bl)"/>
<path d="M156.0 386.2L177.1 408.9" stroke="#f3c18c" stroke-opacity="0.85" stroke-width="3.3" stroke-linecap="round" stroke-linejoin="round" fill="none" transform="translate(-0.8,-1.5)" filter="url(#bl)"/>
</g>
<g opacity="0.9">
<path d="M297.7 369.0L317.4 366.8" stroke="#a36c3b" stroke-width="8.4" stroke-linecap="round" stroke-linejoin="round" fill="none"/>
<path d="M293.3 374.5L297.7 369.0" stroke="#a36c3b" stroke-width="7.6" stroke-linecap="round" stroke-linejoin="round" fill="none"/>
<path d="M297.7 369.0L317.4 366.8" stroke="#d79659" stroke-width="6.5" stroke-linecap="round" stroke-linejoin="round" fill="none" transform="translate(-0.35,-0.75)" filter="url(#bl2)"/>
<path d="M293.3 374.5L297.7 369.0" stroke="#d79659" stroke-width="5.9" stroke-linecap="round" stroke-linejoin="round" fill="none" transform="translate(-0.35,-0.75)" filter="url(#bl2)"/>
<path d="M297.7 369.0L317.4 366.8" stroke="#eebb86" stroke-opacity="0.85" stroke-width="3.0" stroke-linecap="round" stroke-linejoin="round" fill="none" transform="translate(-0.8,-1.5)" filter="url(#bl)"/>
<path d="M293.3 374.5L297.7 369.0" stroke="#eebb86" stroke-opacity="0.85" stroke-width="2.7" stroke-linecap="round" stroke-linejoin="round" fill="none" transform="translate(-0.8,-1.5)" filter="url(#bl)"/>
<radialGradient id="b2s" cx="0.42" cy="0.30" r="0.78" fx="0.40" fy="0.22"><stop offset="0" stop-color="#f4c28e"/><stop offset="0.32" stop-color="#e09f62"/><stop offset="0.7" stop-color="#b97a42"/><stop offset="1" stop-color="#7e4f27"/></radialGradient>
<circle cx="288.5" cy="386.6" r="13.6" fill="url(#b2s)"/>
<path d="M275.8 392.1L262.6 395.3" stroke="#a96f3c" stroke-width="7.6" stroke-linecap="round" stroke-linejoin="round" fill="none"/>
<path d="M262.6 395.3L252.7 409.6" stroke="#a96f3c" stroke-width="9.1" stroke-linecap="round" stroke-linejoin="round" fill="none"/>
<path d="M275.8 392.1L262.6 395.3" stroke="#dd9b5c" stroke-width="5.9" stroke-linecap="round" stroke-linejoin="round" fill="none" transform="translate(-0.35,-0.75)" filter="url(#bl2)"/>
<path d="M262.6 395.3L252.7 409.6" stroke="#dd9b5c" stroke-width="7.1" stroke-linecap="round" stroke-linejoin="round" fill="none" transform="translate(-0.35,-0.75)" filter="url(#bl2)"/>
<path d="M275.8 392.1L262.6 395.3" stroke="#f3c18c" stroke-opacity="0.85" stroke-width="2.7" stroke-linecap="round" stroke-linejoin="round" fill="none" transform="translate(-0.8,-1.5)" filter="url(#bl)"/>
<path d="M262.6 395.3L252.7 409.6" stroke="#f3c18c" stroke-opacity="0.85" stroke-width="3.3" stroke-linecap="round" stroke-linejoin="round" fill="none" transform="translate(-0.8,-1.5)" filter="url(#bl)"/>
<path d="M285.6 393.2L300.0 405.0" stroke="#a96f3c" stroke-width="7.6" stroke-linecap="round" stroke-linejoin="round" fill="none"/>
<path d="M300.0 405.0L317.4 419.5" stroke="#a96f3c" stroke-width="9.1" stroke-linecap="round" stroke-linejoin="round" fill="none"/>
<path d="M285.6 393.2L300.0 405.0" stroke="#dd9b5c" stroke-width="5.9" stroke-linecap="round" stroke-linejoin="round" fill="none" transform="translate(-0.35,-0.75)" filter="url(#bl2)"/>
<path d="M300.0 405.0L317.4 419.5" stroke="#dd9b5c" stroke-width="7.1" stroke-linecap="round" stroke-linejoin="round" fill="none" transform="translate(-0.35,-0.75)" filter="url(#bl2)"/>
<path d="M285.6 393.2L300.0 405.0" stroke="#f3c18c" stroke-opacity="0.85" stroke-width="2.7" stroke-linecap="round" stroke-linejoin="round" fill="none" transform="translate(-0.8,-1.5)" filter="url(#bl)"/>
<path d="M300.0 405.0L317.4 419.5" stroke="#f3c18c" stroke-opacity="0.85" stroke-width="3.3" stroke-linecap="round" stroke-linejoin="round" fill="none" transform="translate(-0.8,-1.5)" filter="url(#bl)"/>
<path d="M297.7 378.9L315.2 370.1" stroke="#a96f3c" stroke-width="7.6" stroke-linecap="round" stroke-linejoin="round" fill="none"/>
<path d="M315.2 370.1L344.8 374.5" stroke="#a96f3c" stroke-width="9.1" stroke-linecap="round" stroke-linejoin="round" fill="none"/>
<path d="M297.7 378.9L315.2 370.1" stroke="#dd9b5c" stroke-width="5.9" stroke-linecap="round" stroke-linejoin="round" fill="none" transform="translate(-0.35,-0.75)" filter="url(#bl2)"/>
<path d="M315.2 370.1L344.8 374.5" stroke="#dd9b5c" stroke-width="7.1" stroke-linecap="round" stroke-linejoin="round" fill="none" transform="translate(-0.35,-0.75)" filter="url(#bl2)"/>
<path d="M297.7 378.9L315.2 370.1" stroke="#f3c18c" stroke-opacity="0.85" stroke-width="2.7" stroke-linecap="round" stroke-linejoin="round" fill="none" transform="translate(-0.8,-1.5)" filter="url(#bl)"/>
<path d="M315.2 370.1L344.8 374.5" stroke="#f3c18c" stroke-opacity="0.85" stroke-width="3.3" stroke-linecap="round" stroke-linejoin="round" fill="none" transform="translate(-0.8,-1.5)" filter="url(#bl)"/>
</g>
<g opacity="0.9">
<path d="M441.3 365.7L431.5 370.1" stroke="#4a311c" stroke-width="8.6" stroke-linecap="round" stroke-linejoin="round" fill="none"/>
<path d="M441.3 365.7L431.5 370.1" stroke="#6b4828" stroke-width="5.2" stroke-linecap="round" stroke-linejoin="round" fill="none" transform="translate(-0.5,-0.6)" filter="url(#bl2)"/>
<path d="M441.3 365.7L431.5 370.1" stroke="#b98048" stroke-opacity="0.55" stroke-width="1.9" stroke-linecap="round" stroke-linejoin="round" fill="none" transform="translate(-1.3,-1.6)" filter="url(#bl)"/>
<path d="M449.0 372.3L441.3 365.7" stroke="#a56d3b" stroke-width="7.6" stroke-linecap="round" stroke-linejoin="round" fill="none"/>
<path d="M449.0 372.3L441.3 365.7" stroke="#d9985a" stroke-width="5.9" stroke-linecap="round" stroke-linejoin="round" fill="none" transform="translate(-0.35,-0.75)" filter="url(#bl2)"/>
<path d="M449.0 372.3L441.3 365.7" stroke="#f0bd88" stroke-opacity="0.85" stroke-width="2.7" stroke-linecap="round" stroke-linejoin="round" fill="none" transform="translate(-0.8,-1.5)" filter="url(#bl)"/>
<path d="M483.0 371.2L501.6 387.6" stroke="#a36c3b" stroke-width="8.4" stroke-linecap="round" stroke-linejoin="round" fill="none"/>
<path d="M469.8 372.3L483.0 371.2" stroke="#a36c3b" stroke-width="7.6" stroke-linecap="round" stroke-linejoin="round" fill="none"/>
<path d="M483.0 371.2L501.6 387.6" stroke="#d79659" stroke-width="6.5" stroke-linecap="round" stroke-linejoin="round" fill="none" transform="translate(-0.35,-0.75)" filter="url(#bl2)"/>
<path d="M469.8 372.3L483.0 371.2" stroke="#d79659" stroke-width="5.9" stroke-linecap="round" stroke-linejoin="round" fill="none" transform="translate(-0.35,-0.75)" filter="url(#bl2)"/>
<path d="M483.0 371.2L501.6 387.6" stroke="#eebb86" stroke-opacity="0.85" stroke-width="3.0" stroke-linecap="round" stroke-linejoin="round" fill="none" transform="translate(-0.8,-1.5)" filter="url(#bl)"/>
<path d="M469.8 372.3L483.0 371.2" stroke="#eebb86" stroke-opacity="0.85" stroke-width="2.7" stroke-linecap="round" stroke-linejoin="round" fill="none" transform="translate(-0.8,-1.5)" filter="url(#bl)"/>
<radialGradient id="b3s" cx="0.42" cy="0.30" r="0.78" fx="0.40" fy="0.22"><stop offset="0" stop-color="#f4c28e"/><stop offset="0.32" stop-color="#e09f62"/><stop offset="0.7" stop-color="#b97a42"/><stop offset="1" stop-color="#7e4f27"/></radialGradient>
<circle cx="458.9" cy="378.4" r="13.6" fill="url(#b3s)"/>
<path d="M450.1 382.1L445.7 392.0" stroke="#a96f3c" stroke-width="7.6" stroke-linecap="round" stroke-linejoin="round" fill="none"/>
<path d="M445.7 392.0L434.8 422.7" stroke="#a96f3c" stroke-width="9.1" stroke-linecap="round" stroke-linejoin="round" fill="none"/>
<path d="M450.1 382.1L445.7 392.0" stroke="#dd9b5c" stroke-width="5.9" stroke-linecap="round" stroke-linejoin="round" fill="none" transform="translate(-0.35,-0.75)" filter="url(#bl2)"/>
<path d="M445.7 392.0L434.8 422.7" stroke="#dd9b5c" stroke-width="7.1" stroke-linecap="round" stroke-linejoin="round" fill="none" transform="translate(-0.35,-0.75)" filter="url(#bl2)"/>
<path d="M450.1 382.1L445.7 392.0" stroke="#f3c18c" stroke-opacity="0.85" stroke-width="2.7" stroke-linecap="round" stroke-linejoin="round" fill="none" transform="translate(-0.8,-1.5)" filter="url(#bl)"/>
<path d="M445.7 392.0L434.8 422.7" stroke="#f3c18c" stroke-opacity="0.85" stroke-width="3.3" stroke-linecap="round" stroke-linejoin="round" fill="none" transform="translate(-0.8,-1.5)" filter="url(#bl)"/>
<path d="M470.9 382.1L489.5 386.5" stroke="#a96f3c" stroke-width="7.6" stroke-linecap="round" stroke-linejoin="round" fill="none"/>
<path d="M489.5 386.5L516.9 408.4" stroke="#a96f3c" stroke-width="9.1" stroke-linecap="round" stroke-linejoin="round" fill="none"/>
<path d="M470.9 382.1L489.5 386.5" stroke="#dd9b5c" stroke-width="5.9" stroke-linecap="round" stroke-linejoin="round" fill="none" transform="translate(-0.35,-0.75)" filter="url(#bl2)"/>
<path d="M489.5 386.5L516.9 408.4" stroke="#dd9b5c" stroke-width="7.1" stroke-linecap="round" stroke-linejoin="round" fill="none" transform="translate(-0.35,-0.75)" filter="url(#bl2)"/>
<path d="M470.9 382.1L489.5 386.5" stroke="#f3c18c" stroke-opacity="0.85" stroke-width="2.7" stroke-linecap="round" stroke-linejoin="round" fill="none" transform="translate(-0.8,-1.5)" filter="url(#bl)"/>
<path d="M489.5 386.5L516.9 408.4" stroke="#f3c18c" stroke-opacity="0.85" stroke-width="3.3" stroke-linecap="round" stroke-linejoin="round" fill="none" transform="translate(-0.8,-1.5)" filter="url(#bl)"/>
</g>
<path d="M75.0 304.8V390.3M85.1 304.8V390.3M95.2 304.8V390.3M105.4 304.8V390.3M115.5 304.8V390.3M125.6 304.8V390.3M135.7 304.8V390.3M145.8 304.8V390.3M156.0 304.8V390.3M166.1 304.8V390.3M176.2 304.8V390.3M70.7 310.2H184.9M70.7 317.5H184.9M70.7 324.8H184.9M70.7 332.0H184.9M70.7 339.3H184.9M70.7 346.6H184.9M70.7 353.9H184.9M70.7 361.2H184.9M70.7 368.4H184.9M70.7 375.7H184.9M70.7 383.0H184.9" stroke="#fff" stroke-opacity="0.3" stroke-width="1" fill="none"/>
<path d="M70.7 390.2H184.9M70.7 393.6H184.9M70.7 396.5H184.9M70.7 401.1H184.9M70.7 405.7H184.9M70.7 409.7H184.9M70.7 415.4H184.9M70.7 422.3H184.9M70.7 431.5H184.9" stroke="#fff" stroke-opacity="0.3" stroke-width="1" fill="none"/>
<path d="M85.9 390.2L-16.8 436.3M105.9 390.2L7.9 436.3M125.9 390.2L32.6 436.3M145.8 390.2L57.3 436.3M165.8 390.2L82.0 436.3M185.8 390.2L106.7 436.3M205.8 390.2L131.4 436.3M225.8 390.2L156.1 436.3M245.7 390.2L180.8 436.3" stroke="#fff" stroke-opacity="0.30" stroke-width="0.9" fill="none" clip-path="url(#gb0)"/>
<path d="M252.7 304.8V390.3M262.8 304.8V390.3M272.9 304.8V390.3M283.1 304.8V390.3M293.2 304.8V390.3M303.3 304.8V390.3M313.4 304.8V390.3M323.5 304.8V390.3M333.7 304.8V390.3M343.8 304.8V390.3M353.9 304.8V390.3M248.4 310.2H362.3M248.4 317.5H362.3M248.4 324.8H362.3M248.4 332.0H362.3M248.4 339.3H362.3M248.4 346.6H362.3M248.4 353.9H362.3M248.4 361.2H362.3M248.4 368.4H362.3M248.4 375.7H362.3M248.4 383.0H362.3" stroke="#fff" stroke-opacity="0.3" stroke-width="1" fill="none"/>
<path d="M248.4 390.2H362.3M248.4 393.6H362.3M248.4 396.5H362.3M248.4 401.1H362.3M248.4 405.7H362.3M248.4 409.7H362.3M248.4 415.4H362.3M248.4 422.3H362.3M248.4 431.5H362.3" stroke="#fff" stroke-opacity="0.3" stroke-width="1" fill="none"/>
<path d="M263.6 390.2L160.9 436.3M283.6 390.2L185.6 436.3M303.6 390.2L210.3 436.3M323.5 390.2L235.0 436.3M343.5 390.2L259.7 436.3M363.5 390.2L284.4 436.3M383.5 390.2L309.1 436.3M403.5 390.2L333.8 436.3M423.4 390.2L358.5 436.3" stroke="#fff" stroke-opacity="0.30" stroke-width="0.9" fill="none" clip-path="url(#gb1)"/>
<path d="M421.6 304.8V390.3M431.7 304.8V390.3M441.8 304.8V390.3M452.0 304.8V390.3M462.1 304.8V390.3M472.2 304.8V390.3M482.3 304.8V390.3M492.4 304.8V390.3M502.6 304.8V390.3M512.7 304.8V390.3M522.8 304.8V390.3M418.3 310.2H531.8M418.3 317.5H531.8M418.3 324.8H531.8M418.3 332.0H531.8M418.3 339.3H531.8M418.3 346.6H531.8M418.3 353.9H531.8M418.3 361.2H531.8M418.3 368.4H531.8M418.3 375.7H531.8M418.3 383.0H531.8" stroke="#fff" stroke-opacity="0.3" stroke-width="1" fill="none"/>
<path d="M418.3 390.2H531.8M418.3 393.6H531.8M418.3 396.5H531.8M418.3 401.1H531.8M418.3 405.7H531.8M418.3 409.7H531.8M418.3 415.4H531.8M418.3 422.3H531.8M418.3 431.5H531.8" stroke="#fff" stroke-opacity="0.3" stroke-width="1" fill="none"/>
<path d="M433.5 390.2L330.8 436.3M453.5 390.2L355.5 436.3M473.5 390.2L380.2 436.3M493.4 390.2L404.9 436.3M513.4 390.2L429.6 436.3M533.4 390.2L454.3 436.3M553.4 390.2L479.0 436.3M573.4 390.2L503.7 436.3M593.3 390.2L528.4 436.3" stroke="#fff" stroke-opacity="0.30" stroke-width="0.9" fill="none" clip-path="url(#gb2)"/>
<circle cx="546" cy="370.5" r="1.8" fill="#8a8a8a"/>
<circle cx="554.1" cy="370.5" r="1.8" fill="#8a8a8a"/>
<circle cx="562" cy="370.5" r="1.8" fill="#8a8a8a"/>
<text x="50.70" y="469.10" font-size="12.2" textLength="112.40" lengthAdjust="spacing" fill="#1a1a1a" >When friction is high,</text>
<text x="50.70" y="483.50" font-size="12.2" textLength="122.30" lengthAdjust="spacing" fill="#1a1a1a" >walking can be reliable</text>
<text x="226.10" y="469.10" font-size="12.2" textLength="107.90" lengthAdjust="spacing" fill="#1a1a1a" >When friction is low,</text>
<text x="226.10" y="483.50" font-size="12.2" textLength="118.90" lengthAdjust="spacing" fill="#1a1a1a" >the ant may slip or fall</text>
<text x="399.40" y="469.10" font-size="12.2" textLength="114.80" lengthAdjust="spacing" fill="#1a1a1a" >Friction can also take</text>
<text x="399.40" y="483.50" font-size="12.2" textLength="122.30" lengthAdjust="spacing" fill="#1a1a1a" >on intermediate values</text>
<text x="607.80" y="20.85" font-size="16" textLength="9.00" lengthAdjust="spacing" font-weight="bold" fill="#000" style="stroke:#000;stroke-width:0.95px;stroke-linejoin:round">c</text>
<text x="667.20" y="21.50" font-size="12.2" textLength="306.30" lengthAdjust="spacing" fill="#1a1a1a" >Loss of plasticity in ant locomotion with changing friction</text>
<clipPath id="cc"><rect x="676" y="40" width="350" height="264.2"/></clipPath>
<g clip-path="url(#cc)" fill="none" stroke-linejoin="round">
<path d="M697.0 304.5L700.0 289.0L704.5 265.0L711.0 224.0L716.3 190.0L721.4 170.0L722.4 182.0L723.6 190.0L726.0 182.0L728.9 178.6L732.0 177.4L735.0 178.0L738.0 178.3L741.0 180.0L745.0 181.5L748.9 184.0L751.0 184.0L753.0 186.0L754.7 200.0L757.5 198.0L760.9 197.0L763.0 198.0L765.0 200.0L769.0 204.6L772.8 208.0L777.0 211.6L781.0 214.5L784.8 217.0L787.0 222.0L789.5 223.4L792.0 226.0L794.5 228.5L796.8 231.8L798.5 231.0L800.0 232.7L803.0 232.4L806.5 231.0L809.0 233.4L812.0 233.0L814.3 233.3L816.4 235.3L819.5 239.0L822.4 241.0L825.0 241.0L827.6 242.2L830.0 244.5L832.7 248.2L836.0 246.4L839.6 245.6L843.0 248.0L846.5 249.1L849.0 255.0L851.7 262.0L853.7 255.5L856.0 263.0L858.6 272.3L861.0 265.0L862.9 260.3L864.6 267.0L866.3 275.8L867.5 296.0L868.3 296.0L869.7 276.6L871.4 272.0L873.2 269.7L875.8 272.3L878.4 270.6L880.9 282.7L882.3 304.5L882.3 304.5L833.6 304.5L831.0 289.5L828.4 268.9L825.8 262.9L823.7 258.0L821.5 255.1L819.3 258.0L817.2 260.3L815.5 253.0L813.8 248.0L811.2 254.2L809.0 247.0L806.5 241.0L803.4 250.0L801.6 262.0L800.0 275.8L798.5 282.4L796.0 278.0L793.0 262.0L790.0 246.0L786.1 243.0L784.8 234.0L781.0 232.0L779.5 237.0L778.0 236.0L776.0 231.0L772.8 228.0L769.0 224.0L765.0 220.0L760.9 216.0L757.5 218.0L754.7 222.0L753.0 206.0L748.9 203.0L745.0 200.5L741.0 198.0L738.0 196.4L735.0 196.0L732.0 196.0L728.9 197.0L726.0 202.0L723.6 210.0L722.3 200.0L721.8 188.0L717.5 202.0L712.2 234.0L705.5 270.6L701.0 291.0L698.0 304.5Z" fill="#d55e00" fill-opacity="0.28" stroke="none"/>
<path d="M890.4 304.5L893.3 271.5L894.8 281.0L896.4 289.5L899.0 294.7L900.7 284.4L903.3 294.7L906.4 304.5Z" fill="#d55e00" fill-opacity="0.28" stroke="none"/>
<path d="M910.2 304.5L912.5 296.0L915.0 286.1L917.5 295.0L920.5 304.5Z" fill="#d55e00" fill-opacity="0.28" stroke="none"/>
<path d="M697.4 304.5L700.9 290.0L705.4 268.5L711.9 230.0L717.0 195.0L721.5 180.0L722.2 190.0L723.6 200.0L725.5 194.0L728.9 187.9L731.0 186.6L733.0 186.0L735.0 187.0L737.0 186.5L739.0 188.0L741.0 188.5L743.0 189.0L745.0 190.0L747.0 192.4L748.9 193.2L750.5 192.5L752.5 194.0L753.3 200.0L754.7 211.9L756.0 210.0L757.0 209.0L759.0 207.5L760.9 206.5L763.0 208.5L765.0 210.0L767.0 212.5L769.0 214.0L771.0 215.0L772.8 217.2L775.0 219.0L777.0 220.0L779.0 222.2L781.0 223.0L783.0 224.0L784.8 225.2L786.1 231.8L788.0 232.0L790.0 234.0L791.5 234.0L793.0 237.0L795.0 237.5L796.8 239.8L798.5 242.0L800.0 242.2L801.5 241.5L803.0 240.0L805.0 237.0L806.5 235.8L808.5 239.0L810.3 241.3L813.0 241.0L816.4 240.5L818.1 246.8L820.0 247.4L822.0 247.0L824.0 246.6L825.8 247.4L828.0 250.0L829.8 254.0L831.9 258.5L833.5 263.0L835.3 269.2L837.9 269.2L839.6 256.0L841.3 268.9L842.6 268.0L843.9 270.6L845.1 304.5L847.5 304.5L848.7 270.6L849.9 272.3L852.2 304.5L855.0 303.6L856.5 304.5L857.5 302.5L858.5 304.5L860.5 304.5L862.9 292.1L864.1 304.5" stroke="#d55e00" stroke-width="1.1"/>
<path d="M695.4 304.5L696.0 302.6L696.6 300.7L697.2 298.5L697.8 295.2L698.4 291.9L699.0 288.8L699.6 285.7L700.2 282.6L700.8 279.5L701.4 276.4L702.0 273.3L702.6 270.1L703.2 266.9L703.8 263.1L704.4 259.4L705.0 255.6L705.6 251.8L706.2 247.9L706.7 244.1L707.3 240.2L707.9 236.3L708.5 232.4L709.1 228.5L709.7 224.1L710.3 219.1L710.9 214.0L711.5 208.9L712.1 203.7L712.7 198.5L713.3 193.3L713.9 188.0L714.5 182.6L715.1 177.4L715.7 172.1L716.3 166.7L716.9 161.3L717.5 155.8L718.1 150.3L718.7 144.7L719.3 139.0L722.3 192.1L722.8 182.0L723.3 174.0L723.8 167.4L724.3 162.0L724.8 157.4L725.3 153.4L725.8 149.8L726.3 146.4L726.8 143.5L727.3 140.7L727.8 138.2L728.3 135.7L728.8 133.5L729.3 131.4L729.8 129.5L730.3 127.6L730.8 126.0L731.3 124.4L731.8 122.6L732.3 120.8L732.8 119.3L733.3 117.9L733.8 116.7L734.3 115.3L734.8 114.0L735.3 112.7L735.8 111.4L736.3 110.4L736.8 109.3L737.3 108.7L737.8 107.8L738.3 106.9L738.8 106.0L739.3 105.2L739.8 104.6L740.3 103.6L740.8 102.7L741.3 101.8L741.8 101.4L742.3 100.8L742.8 100.2L743.3 99.5L743.8 99.0L744.3 98.3L744.8 97.9L745.3 97.5L745.8 97.4L746.3 96.8L746.8 96.3L747.3 95.9L747.8 95.6L748.3 95.4L748.8 95.0L749.3 94.4L749.8 93.9L750.3 93.4L750.8 93.1L751.3 93.0L751.8 92.9L752.3 92.5L752.8 92.2L753.8 150.6L754.3 145.5L754.8 141.5L755.3 138.3L755.8 135.6L756.3 133.4L756.8 131.4L757.3 129.5L757.8 127.9L758.3 126.8L758.8 125.5L759.3 124.0L759.8 122.9L760.3 121.9L760.8 121.1L761.3 120.1L761.8 119.1L762.3 117.9L762.8 117.1L763.3 116.1L763.8 115.4L764.3 114.6L764.8 114.0L765.3 113.3L765.8 112.5L766.3 111.9L766.8 111.4L767.3 110.9L767.8 110.4L768.3 110.1L768.8 109.7L769.3 109.0L769.8 108.3L770.3 107.8L770.8 107.3L771.3 107.1L771.8 106.7L772.3 106.4L772.8 105.8L773.3 105.4L773.8 105.0L774.3 104.9L774.8 104.7L775.3 104.7L775.8 104.2L776.3 104.1L776.8 103.9L777.3 103.7L777.8 103.4L778.3 102.9L778.8 102.8L779.3 102.8L779.8 102.9L780.3 102.6L780.8 102.2L781.3 101.9L781.8 101.8L782.3 101.6L782.8 101.4L783.3 101.4L783.8 101.3L784.3 101.2L785.3 149.8L785.8 145.8L786.3 142.6L786.8 140.1L787.3 138.0L787.8 136.3L788.3 134.8L788.8 133.5L789.3 132.3L789.8 130.9L790.3 129.5L790.8 128.3L791.3 127.7L791.8 127.1L792.3 126.5L792.8 125.5L793.3 124.6L793.8 123.7L794.3 123.0L794.8 122.2L795.3 121.6L795.8 120.9L796.3 120.5L796.8 120.2L797.3 119.8L797.8 119.4L798.3 119.0L798.8 118.5L799.3 118.1L799.8 117.6L800.3 117.1L800.8 116.4L801.3 115.9L801.8 115.5L802.3 115.2L802.8 115.2L803.3 115.0L803.8 115.0L804.3 114.6L804.8 114.2L805.3 113.7L805.8 113.6L806.3 113.5L806.8 113.5L807.3 113.2L807.8 113.0L808.3 112.5L808.8 112.5L809.3 112.3L809.8 112.2L810.3 111.7L810.8 111.6L811.3 111.4L811.8 111.3L812.3 111.0L812.8 111.1L813.3 111.0L813.8 111.0L814.3 110.8L814.8 110.8L815.3 110.8L815.8 110.6L816.8 153.2L817.3 150.4L817.8 148.3L818.3 146.6L818.8 145.0L819.3 143.7L819.8 142.6L820.3 141.6L820.8 140.6L821.3 139.8L821.8 139.2L822.3 138.6L822.8 137.7L823.3 136.8L823.8 136.3L824.3 135.9L824.8 135.4L825.3 134.9L825.8 134.3L826.3 133.9L826.8 133.6L827.3 133.3L827.8 132.9L828.3 132.6L828.8 132.3L829.3 132.0L829.8 131.8L830.3 131.4L830.8 131.0L831.3 130.8L831.8 130.2L832.3 130.0L832.8 129.6L833.3 129.6L833.8 129.4L834.3 129.2L834.8 129.0L835.3 128.8L835.8 128.4L836.3 128.5L836.8 128.4L837.3 128.4L837.8 127.9L838.3 127.8L838.8 127.5L839.3 127.4L839.8 126.9L840.3 126.8L840.8 126.9L841.3 126.8L841.8 126.7L842.3 126.6L842.8 126.7L843.3 126.5L843.8 126.5L844.3 126.3L844.8 126.4L845.3 126.2L845.8 126.3L846.3 126.1L846.8 125.8L847.3 125.5L848.3 154.6L848.8 152.6L849.3 150.9L849.8 149.6L850.3 148.5L850.8 147.5L851.3 146.6L851.8 146.0L852.3 145.7L852.8 145.2L853.3 144.5L853.8 143.9L854.3 143.6L854.8 143.1L855.3 142.8L855.8 142.3L856.3 142.1L856.8 141.6L857.3 141.2L857.8 140.8L858.3 140.4L858.8 139.9L859.3 139.6L859.8 139.3L860.3 139.3L860.8 138.9L861.3 138.8L861.8 138.7L862.3 138.5L862.8 138.5L863.3 138.3L863.8 138.2L864.3 138.0L864.8 137.8L865.3 137.7L865.8 137.5L866.3 137.1L866.8 136.8L867.3 136.5L867.8 136.7L868.3 136.4L868.8 136.2L869.3 136.0L869.8 136.0L870.3 135.8L870.8 135.8L871.3 135.7L871.8 135.7L872.3 135.5L872.8 135.4L873.3 135.5L873.8 135.4L874.3 135.4L874.8 135.1L875.3 135.1L875.8 134.9L876.3 135.1L876.8 134.9L877.3 134.8L877.8 134.8L878.3 134.8L878.8 134.9L879.8 168.5L880.3 166.7L880.8 165.2L881.3 164.0L881.8 162.9L882.3 162.2L882.8 161.3L883.3 160.6L883.8 159.9L884.3 159.7L884.8 159.1L885.3 158.7L885.8 158.3L886.3 157.8L886.8 157.4L887.3 157.1L887.8 156.9L888.3 156.7L888.8 156.1L889.3 155.7L889.8 155.3L890.3 155.1L890.8 154.7L891.3 154.4L891.8 154.2L892.3 154.3L892.8 153.9L893.3 153.5L893.8 153.2L894.3 153.2L894.8 153.2L895.3 152.9L895.8 152.5L896.3 152.2L896.8 152.1L897.3 152.2L897.8 152.1L898.3 152.0L898.8 151.7L899.3 151.6L899.8 151.7L900.3 151.6L900.8 151.4L901.3 151.2L901.8 151.3L902.3 151.1L902.8 151.0L903.3 150.8L903.8 150.9L904.3 150.8L904.8 150.7L905.3 150.8L905.8 150.6L906.3 150.3L906.8 150.0L907.3 150.1L907.8 150.0L908.3 150.1L908.8 150.0L909.3 150.1L909.8 150.1L910.3 150.0L911.3 168.5L911.8 166.6L912.3 165.0L912.8 163.8L913.3 162.9L913.8 162.0L914.3 161.2L914.8 160.3L915.3 159.8L915.8 159.5L916.3 159.0L916.8 158.6L917.3 158.1L917.8 157.7L918.3 157.2L918.8 156.9L919.3 156.5L919.8 156.2L920.3 155.7L920.8 155.5L921.3 155.5L921.8 155.3L922.3 154.9L922.8 154.6L923.3 154.4L923.8 154.2L924.3 153.9L924.8 153.7L925.3 153.5L925.8 153.2L926.3 152.9L926.8 152.9L927.3 152.8L927.8 152.7L928.3 152.5L928.8 152.5L929.3 152.6L929.8 152.3L930.3 151.9L930.8 151.5L931.3 151.2L931.8 151.4L932.3 151.5L932.8 151.4L933.3 151.2L933.8 150.9L934.3 150.8L934.8 150.6L935.3 150.6L935.8 150.8L936.3 150.7L936.8 150.7L937.3 150.6L937.8 150.4L938.3 150.5L938.8 150.4L939.3 150.5L939.8 150.4L940.3 150.3L940.8 150.4L941.3 150.3L941.8 150.3L942.8 171.8L943.3 169.9L943.8 168.4L944.3 167.2L944.8 166.1L945.3 165.3L945.8 164.7L946.3 164.2L946.8 163.4L947.3 162.7L947.8 162.2L948.3 161.6L948.8 161.4L949.3 160.9L949.8 160.4L950.3 159.9L950.8 159.5L951.3 159.2L951.8 159.1L952.3 158.9L952.8 158.8L953.3 158.5L953.8 158.1L954.3 157.8L954.8 157.3L955.3 157.3L955.8 157.1L956.3 157.1L956.8 156.7L957.3 156.5L957.8 156.5L958.3 156.1L958.8 156.1L959.3 155.9L959.8 155.9L960.3 155.7L960.8 155.6L961.3 155.5L961.8 155.2L962.3 155.0L962.8 155.1L963.3 155.2L963.8 155.0L964.3 154.9L964.8 154.8L965.3 154.8L965.8 154.7L966.3 154.5L966.8 154.2L967.3 153.9L967.8 153.9L968.3 153.7L968.8 153.8L969.3 153.6L969.8 153.5L970.3 153.2L970.8 153.4L971.3 153.6L971.8 153.6L972.3 153.4L972.8 153.1L973.3 153.1L974.3 180.8L974.8 179.5L975.3 178.5L975.8 177.6L976.3 176.8L976.8 176.1L977.3 175.5L977.8 175.3L978.3 175.1L978.8 174.5L979.3 174.0L979.8 173.8L980.3 173.5L980.8 173.2L981.3 172.7L981.8 172.4L982.3 172.3L982.8 172.2L983.3 171.9L983.8 171.6L984.3 171.3L984.8 171.2L985.3 171.0L985.8 170.6L986.3 170.4L986.8 170.3L987.3 170.2L987.8 170.0L988.3 169.8L988.8 169.5L989.3 169.4L989.8 169.5L990.3 169.6L990.8 169.5L991.3 169.1L991.8 169.1L992.3 168.9L992.8 168.9L993.3 168.8L993.8 168.8L994.3 169.0L994.8 168.8L995.3 168.8L995.8 168.6L996.3 168.3L996.8 168.3L997.3 168.1L997.8 168.4L998.3 168.4L998.8 168.3L999.3 168.2L999.8 168.1L1000.3 168.2L1000.8 167.8L1001.3 167.6L1001.8 167.6L1002.3 167.7L1002.8 167.5L1003.3 167.7L1003.8 167.7L1004.3 167.7L1004.8 167.5L1004.8 192.9L1004.3 193.2L1003.8 193.1L1003.3 193.1L1002.8 192.9L1002.3 193.1L1001.8 192.9L1001.3 192.9L1000.8 193.1L1000.3 193.5L999.8 193.3L999.3 193.4L998.8 193.5L998.3 193.6L997.8 193.6L997.3 193.2L996.8 193.4L996.3 193.3L995.8 193.6L995.3 193.8L994.8 193.7L994.3 193.8L993.8 193.5L993.3 193.5L992.8 193.5L992.3 193.5L991.8 193.7L991.3 193.6L990.8 194.0L990.3 194.0L989.8 193.8L989.3 193.6L988.8 193.6L988.3 193.9L987.8 193.9L987.3 194.1L986.8 194.0L986.3 194.1L985.8 194.2L985.3 194.5L984.8 194.7L984.3 194.6L983.8 194.8L983.3 195.1L982.8 195.2L982.3 195.1L981.8 195.1L981.3 195.3L980.8 195.6L980.3 195.8L979.8 195.8L979.3 195.9L978.8 196.3L978.3 196.7L977.8 196.6L977.3 196.6L976.8 196.9L976.3 197.4L975.8 197.9L975.3 198.4L974.8 199.1L974.3 200.0L973.3 174.9L972.8 174.9L972.3 175.3L971.8 175.5L971.3 175.5L970.8 175.2L970.3 175.0L969.8 175.2L969.3 175.3L968.8 175.6L968.3 175.5L967.8 175.6L967.3 175.6L966.8 175.9L966.3 176.2L965.8 176.5L965.3 176.6L964.8 176.6L964.3 176.5L963.8 176.7L963.3 176.8L962.8 176.7L962.3 176.6L961.8 176.7L961.3 177.0L960.8 177.1L960.3 177.1L959.8 177.3L959.3 177.3L958.8 177.5L958.3 177.4L957.8 177.8L957.3 177.7L956.8 177.9L956.3 178.2L955.8 178.2L955.3 178.3L954.8 178.2L954.3 178.7L953.8 179.0L953.3 179.4L952.8 179.6L952.3 179.6L951.8 179.7L951.3 179.7L950.8 180.0L950.3 180.2L949.8 180.7L949.3 181.1L948.8 181.6L948.3 181.7L947.8 182.2L947.3 182.7L946.8 183.4L946.3 184.1L945.8 184.6L945.3 185.2L944.8 186.0L944.3 187.2L943.8 188.6L943.3 190.4L942.8 192.7L941.8 171.2L941.3 171.2L940.8 171.3L940.3 171.1L939.8 171.3L939.3 171.4L938.8 171.3L938.3 171.3L937.8 171.2L937.3 171.4L936.8 171.5L936.3 171.5L935.8 171.5L935.3 171.3L934.8 171.3L934.3 171.5L933.8 171.6L933.3 171.9L932.8 172.2L932.3 172.2L931.8 172.0L931.3 171.7L930.8 172.1L930.3 172.6L929.8 173.1L929.3 173.4L928.8 173.2L928.3 173.2L927.8 173.4L927.3 173.5L926.8 173.5L926.3 173.5L925.8 173.8L925.3 174.1L924.8 174.3L924.3 174.5L923.8 174.8L923.3 175.0L922.8 175.1L922.3 175.4L921.8 175.8L921.3 176.0L920.8 176.0L920.3 176.1L919.8 176.6L919.3 176.9L918.8 177.2L918.3 177.5L917.8 178.1L917.3 178.4L916.8 178.9L916.3 179.3L915.8 179.8L915.3 180.1L914.8 180.7L914.3 181.7L913.8 182.7L913.3 183.7L912.8 184.9L912.3 186.6L911.8 188.8L911.3 191.6L910.3 171.9L909.8 171.9L909.3 171.9L908.8 171.9L908.3 171.9L907.8 171.8L907.3 171.8L906.8 171.7L906.3 172.1L905.8 172.4L905.3 172.6L904.8 172.5L904.3 172.5L903.8 172.7L903.3 172.5L902.8 172.7L902.3 172.8L901.8 173.0L901.3 172.8L900.8 173.0L900.3 173.2L899.8 173.2L899.3 173.1L898.8 173.2L898.3 173.5L897.8 173.6L897.3 173.5L896.8 173.5L896.3 173.4L895.8 173.8L895.3 174.2L894.8 174.5L894.3 174.4L893.8 174.3L893.3 174.6L892.8 175.0L892.3 175.4L891.8 175.2L891.3 175.3L890.8 175.5L890.3 176.0L889.8 176.1L889.3 176.4L888.8 176.7L888.3 177.4L887.8 177.5L887.3 177.6L886.8 177.8L886.3 178.1L885.8 178.5L885.3 178.9L884.8 179.2L884.3 179.7L883.8 179.8L883.3 180.5L882.8 181.1L882.3 182.1L881.8 182.8L881.3 183.9L880.8 185.3L880.3 187.1L879.8 189.4L878.8 160.1L878.3 160.0L877.8 160.0L877.3 160.0L876.8 160.1L876.3 160.2L875.8 160.0L875.3 160.2L874.8 160.2L874.3 160.6L873.8 160.5L873.3 160.6L872.8 160.4L872.3 160.5L871.8 160.7L871.3 160.6L870.8 160.8L870.3 160.7L869.8 161.0L869.3 160.8L868.8 161.1L868.3 161.3L867.8 161.6L867.3 161.4L866.8 161.6L866.3 161.9L865.8 162.4L865.3 162.5L864.8 162.6L864.3 162.8L863.8 163.0L863.3 162.9L862.8 163.1L862.3 163.1L861.8 163.2L861.3 163.2L860.8 163.3L860.3 163.6L859.8 163.5L859.3 163.8L858.8 164.1L858.3 164.5L857.8 164.9L857.3 165.3L856.8 165.6L856.3 166.1L855.8 166.2L855.3 166.7L854.8 166.9L854.3 167.3L853.8 167.6L853.3 168.1L852.8 168.7L852.3 169.2L851.8 169.4L851.3 170.0L850.8 170.9L850.3 172.0L849.8 173.2L849.3 174.8L848.8 176.9L848.3 179.5L847.3 147.3L846.8 147.6L846.3 148.0L845.8 148.2L845.3 148.1L844.8 148.2L844.3 148.1L843.8 148.4L843.3 148.3L842.8 148.5L842.3 148.3L841.8 148.5L841.3 148.6L840.8 148.6L840.3 148.5L839.8 148.5L839.3 149.1L838.8 149.2L838.3 149.5L837.8 149.5L837.3 150.1L836.8 150.1L836.3 150.1L835.8 150.0L835.3 150.5L834.8 150.5L834.3 150.8L833.8 150.9L833.3 151.1L832.8 151.1L832.3 151.4L831.8 151.6L831.3 152.2L830.8 152.4L830.3 152.8L829.8 153.1L829.3 153.4L828.8 153.6L828.3 153.8L827.8 154.0L827.3 154.4L826.8 154.6L826.3 154.9L825.8 155.3L825.3 155.8L824.8 156.3L824.3 156.8L823.8 157.0L823.3 157.5L822.8 158.4L822.3 159.4L821.8 160.0L821.3 160.5L820.8 161.3L820.3 162.4L819.8 163.4L819.3 164.6L818.8 166.3L818.3 168.2L817.8 170.4L817.3 173.4L816.8 177.3L815.8 132.5L815.3 132.8L814.8 132.7L814.3 132.7L813.8 132.9L813.3 132.9L812.8 133.0L812.3 132.7L811.8 133.0L811.3 133.2L810.8 133.4L810.3 133.4L809.8 133.9L809.3 134.0L808.8 134.1L808.3 134.1L807.8 134.6L807.3 134.8L806.8 135.1L806.3 135.0L805.8 135.1L805.3 135.1L804.8 135.5L804.3 135.9L803.8 136.4L803.3 136.3L802.8 136.3L802.3 136.2L801.8 136.5L801.3 136.8L800.8 137.3L800.3 138.0L799.8 138.4L799.3 139.0L798.8 139.3L798.3 139.6L797.8 140.0L797.3 140.3L796.8 140.5L796.3 140.7L795.8 141.0L795.3 141.6L794.8 142.1L794.3 142.9L793.8 143.5L793.3 144.3L792.8 145.1L792.3 146.1L791.8 146.5L791.3 146.9L790.8 147.3L790.3 148.5L789.8 149.8L789.3 151.3L788.8 152.4L788.3 153.6L787.8 155.2L787.3 157.0L786.8 159.4L786.3 162.5L785.8 166.5L785.3 171.8L784.3 122.2L783.8 122.2L783.3 122.4L782.8 122.2L782.3 122.5L781.8 122.6L781.3 122.7L780.8 122.9L780.3 123.4L779.8 123.7L779.3 123.5L778.8 123.5L778.3 123.5L777.8 124.1L777.3 124.3L776.8 124.5L776.3 124.6L775.8 124.6L775.3 125.1L774.8 125.1L774.3 125.2L773.8 125.2L773.3 125.5L772.8 125.9L772.3 126.5L771.8 126.7L771.3 127.1L770.8 127.2L770.3 127.7L769.8 128.1L769.3 128.7L768.8 129.4L768.3 129.7L767.8 129.9L767.3 130.3L766.8 130.7L766.3 131.1L765.8 131.6L765.3 132.4L764.8 133.0L764.3 133.4L763.8 134.1L763.3 134.7L762.8 135.6L762.3 136.3L761.8 137.4L761.3 138.2L760.8 139.1L760.3 139.8L759.8 140.5L759.3 141.5L758.8 143.0L758.3 144.1L757.8 145.1L757.3 146.7L756.8 148.6L756.3 150.7L755.8 153.1L755.3 156.2L754.8 160.2L754.3 165.3L753.8 172.0L752.8 116.3L752.3 116.5L751.8 116.9L751.3 116.9L750.8 117.0L750.3 117.2L749.8 117.7L749.3 118.2L748.8 118.7L748.3 119.1L747.8 119.2L747.3 119.4L746.8 119.7L746.3 120.1L745.8 120.7L745.3 120.7L744.8 120.9L744.3 121.2L743.8 121.8L743.3 122.2L742.8 122.9L742.3 123.3L741.8 123.9L741.3 124.0L740.8 124.8L740.3 125.7L739.8 126.5L739.3 127.0L738.8 127.6L738.3 128.4L737.8 129.1L737.3 129.7L736.8 130.1L736.3 131.0L735.8 131.8L735.3 132.9L734.8 134.0L734.3 135.0L733.8 136.2L733.3 137.2L732.8 138.3L732.3 139.5L731.8 141.1L731.3 142.6L730.8 143.9L730.3 145.2L729.8 146.7L729.3 148.3L728.8 150.0L728.3 151.9L727.8 154.1L727.3 156.3L726.8 158.8L726.3 161.4L725.8 164.7L725.3 168.2L724.8 172.3L724.3 177.2L723.8 183.3L723.3 191.1L722.8 200.9L722.3 214.0L722.3 160.0L721.7 163.8L721.0 167.7L720.4 171.6L719.7 175.5L719.1 179.5L718.4 183.5L717.8 187.6L717.2 191.8L716.5 196.1L715.9 200.4L715.2 204.8L714.6 209.2L713.9 213.6L713.3 218.1L712.7 222.6L712.0 227.1L711.4 231.1L710.7 234.6L710.1 238.2L709.4 241.8L708.8 245.4L708.2 249.0L707.5 252.6L706.9 256.2L706.2 259.9L705.6 263.5L704.9 267.2L704.3 270.4L703.7 273.4L703.0 276.5L702.4 279.6L701.7 282.6L701.1 285.7L700.4 288.8L699.8 292.0L699.2 295.2L698.5 298.5L697.9 300.7L697.2 302.6L696.6 304.5Z" fill="#e69f00" fill-opacity="0.30" stroke="none"/>
<path d="M696.0 304.5L696.6 302.6L697.3 300.7L697.9 298.5L698.5 295.2L699.2 292.0L699.8 288.8L700.4 285.7L701.1 282.6L701.7 279.5L702.3 276.4L703.0 273.4L703.6 270.3L704.2 267.1L704.9 263.4L705.5 259.7L706.1 255.9L706.7 252.2L707.4 248.5L708.0 244.8L708.6 241.1L709.3 237.4L709.9 233.7L710.5 230.0L711.2 225.8L711.8 221.1L712.4 216.3L713.1 211.6L713.7 206.8L714.3 202.1L715.0 197.3L715.6 192.6L716.2 187.8L716.9 183.2L717.5 178.6L718.1 174.0L718.8 169.4L719.4 164.8L720.0 160.2L720.7 155.6L721.3 151.0L722.3 203.0L722.8 193.0L723.3 185.0L723.8 178.5L724.3 173.0L724.8 168.3L725.3 164.1L725.8 160.6L726.3 157.4L726.8 154.6L727.3 151.7L727.8 149.8L728.3 147.4L728.8 145.2L729.3 142.9L729.8 141.1L730.3 139.7L730.8 137.7L731.3 136.1L731.8 134.2L732.3 132.8L732.8 131.0L733.3 129.4L733.8 128.1L734.3 127.0L734.8 126.1L735.3 124.9L735.8 124.2L736.3 123.2L736.8 122.1L737.3 120.8L737.8 119.4L738.3 118.5L738.8 118.0L739.3 117.1L739.8 116.5L740.3 115.5L740.8 115.2L741.3 114.6L741.8 114.0L742.3 113.2L742.8 112.1L743.3 111.4L743.8 110.6L744.3 110.4L744.8 109.9L745.3 109.5L745.8 109.3L746.3 109.0L746.8 108.6L747.3 108.2L747.8 107.4L748.3 107.0L748.8 106.4L749.3 106.2L749.8 105.9L750.3 105.4L750.8 105.0L751.3 104.9L751.8 104.9L752.3 104.7L752.8 104.5L753.8 160.0L754.3 155.1L754.8 151.2L755.3 148.1L755.8 145.5L756.3 143.3L756.8 141.1L757.3 139.4L757.8 137.4L758.3 135.9L758.8 134.9L759.3 133.8L759.8 132.7L760.3 131.2L760.8 130.3L761.3 129.2L761.8 128.3L762.3 127.6L762.8 126.9L763.3 126.6L763.8 125.5L764.3 124.8L764.8 123.7L765.3 123.0L765.8 122.6L766.3 122.4L766.8 121.7L767.3 121.4L767.8 120.7L768.3 120.4L768.8 119.4L769.3 118.9L769.8 118.9L770.3 118.7L770.8 118.1L771.3 117.2L771.8 116.5L772.3 116.1L772.8 116.2L773.3 116.2L773.8 115.9L774.3 115.5L774.8 114.9L775.3 114.6L775.8 114.2L776.3 114.3L776.8 114.1L777.3 114.1L777.8 113.9L778.3 113.7L778.8 113.7L779.3 113.6L779.8 113.6L780.3 112.9L780.8 112.6L781.3 112.1L781.8 112.3L782.3 111.9L782.8 112.1L783.3 111.9L783.8 112.0L784.3 111.8L785.3 158.7L785.8 154.8L786.3 151.7L786.8 149.2L787.3 147.2L787.8 145.6L788.3 143.8L788.8 142.2L789.3 140.6L789.8 139.6L790.3 138.7L790.8 138.0L791.3 136.9L791.8 136.3L792.3 135.7L792.8 135.4L793.3 134.7L793.8 133.7L794.3 132.8L794.8 131.9L795.3 131.7L795.8 131.0L796.3 130.3L796.8 129.9L797.3 129.4L797.8 129.1L798.3 128.5L798.8 127.8L799.3 127.6L799.8 126.9L800.3 126.6L800.8 125.8L801.3 125.9L801.8 125.5L802.3 125.4L802.8 125.1L803.3 125.3L803.8 125.1L804.3 124.5L804.8 124.2L805.3 124.1L805.8 123.7L806.3 123.4L806.8 123.3L807.3 123.3L807.8 122.9L808.3 122.5L808.8 122.2L809.3 122.4L809.8 122.3L810.3 122.2L810.8 121.9L811.3 121.5L811.8 121.3L812.3 121.3L812.8 121.4L813.3 121.4L813.8 120.8L814.3 120.4L814.8 120.2L815.3 120.4L815.8 120.4L816.8 163.0L817.3 160.4L817.8 158.3L818.3 156.5L818.8 155.0L819.3 154.0L819.8 152.9L820.3 152.0L820.8 150.8L821.3 150.3L821.8 149.5L822.3 149.0L822.8 148.4L823.3 148.1L823.8 147.3L824.3 146.2L824.8 145.8L825.3 145.4L825.8 145.2L826.3 144.7L826.8 144.4L827.3 144.2L827.8 143.7L828.3 143.1L828.8 142.3L829.3 142.3L829.8 141.8L830.3 141.7L830.8 141.6L831.3 141.5L831.8 141.2L832.3 140.8L832.8 140.6L833.3 140.5L833.8 140.2L834.3 140.1L834.8 140.0L835.3 139.7L835.8 139.3L836.3 139.3L836.8 139.2L837.3 139.3L837.8 139.2L838.3 139.3L838.8 138.7L839.3 138.5L839.8 138.2L840.3 138.2L840.8 137.9L841.3 137.7L841.8 137.8L842.3 137.6L842.8 137.2L843.3 136.8L843.8 137.1L844.3 137.4L844.8 137.2L845.3 137.3L845.8 137.0L846.3 137.2L846.8 136.9L847.3 137.0L848.3 166.4L848.8 164.5L849.3 163.0L849.8 161.8L850.3 161.0L850.8 160.0L851.3 159.3L851.8 158.6L852.3 158.0L852.8 157.8L853.3 156.9L853.8 156.1L854.3 155.4L854.8 155.6L855.3 155.7L855.8 155.5L856.3 154.7L856.8 153.7L857.3 153.3L857.8 153.1L858.3 153.0L858.8 152.9L859.3 152.6L859.8 152.3L860.3 151.9L860.8 151.6L861.3 151.2L861.8 150.8L862.3 151.1L862.8 151.2L863.3 151.2L863.8 150.9L864.3 150.5L864.8 150.3L865.3 150.0L865.8 150.1L866.3 150.1L866.8 150.0L867.3 149.8L867.8 149.6L868.3 149.8L868.8 149.8L869.3 149.1L869.8 148.8L870.3 148.6L870.8 149.0L871.3 149.0L871.8 148.9L872.3 148.7L872.8 148.7L873.3 148.4L873.8 148.1L874.3 148.0L874.8 148.5L875.3 148.8L875.8 148.3L876.3 148.2L876.8 147.7L877.3 147.9L877.8 147.4L878.3 147.3L878.8 147.1L879.8 178.4L880.3 176.6L880.8 175.1L881.3 173.9L881.8 173.0L882.3 172.0L882.8 171.5L883.3 171.2L883.8 170.9L884.3 170.4L884.8 169.9L885.3 169.4L885.8 168.8L886.3 168.5L886.8 168.1L887.3 168.1L887.8 167.4L888.3 167.0L888.8 166.5L889.3 166.1L889.8 166.0L890.3 165.6L890.8 165.7L891.3 165.6L891.8 165.2L892.3 164.8L892.8 164.2L893.3 164.6L893.8 164.1L894.3 164.3L894.8 163.8L895.3 163.7L895.8 163.2L896.3 163.2L896.8 163.1L897.3 163.0L897.8 162.6L898.3 162.5L898.8 162.6L899.3 162.8L899.8 163.1L900.3 162.6L900.8 162.3L901.3 162.0L901.8 162.1L902.3 162.1L902.8 162.0L903.3 161.6L903.8 161.4L904.3 161.6L904.8 161.8L905.3 162.1L905.8 161.7L906.3 161.4L906.8 161.3L907.3 161.2L907.8 161.4L908.3 160.9L908.8 160.9L909.3 160.9L909.8 161.1L910.3 161.3L911.3 178.4L911.8 176.6L912.3 175.3L912.8 174.1L913.3 173.0L913.8 172.2L914.3 171.5L914.8 171.1L915.3 170.5L915.8 170.2L916.3 169.8L916.8 169.3L917.3 168.8L917.8 168.1L918.3 167.9L918.8 167.4L919.3 167.3L919.8 167.1L920.3 166.8L920.8 166.2L921.3 165.3L921.8 165.2L922.3 164.9L922.8 165.1L923.3 164.9L923.8 165.0L924.3 164.9L924.8 164.8L925.3 164.2L925.8 163.9L926.3 164.0L926.8 163.9L927.3 163.8L927.8 163.8L928.3 163.6L928.8 163.3L929.3 162.9L929.8 162.7L930.3 162.2L930.8 162.4L931.3 162.4L931.8 162.4L932.3 161.9L932.8 161.8L933.3 162.0L933.8 162.1L934.3 162.3L934.8 162.0L935.3 162.0L935.8 161.6L936.3 161.7L936.8 161.5L937.3 161.5L937.8 161.6L938.3 161.6L938.8 161.6L939.3 161.1L939.8 161.2L940.3 161.0L940.8 160.9L941.3 160.4L941.8 160.1L942.8 181.7L943.3 179.9L943.8 178.5L944.3 177.4L944.8 176.4L945.3 175.4L945.8 175.1L946.3 174.5L946.8 174.3L947.3 173.5L947.8 173.1L948.3 172.4L948.8 171.8L949.3 171.1L949.8 170.5L950.3 170.2L950.8 170.3L951.3 170.2L951.8 169.9L952.3 169.4L952.8 168.9L953.3 168.8L953.8 168.6L954.3 168.5L954.8 168.1L955.3 167.5L955.8 167.5L956.3 167.5L956.8 167.6L957.3 167.3L957.8 166.9L958.3 166.9L958.8 166.9L959.3 167.2L959.8 166.8L960.3 166.4L960.8 165.9L961.3 166.0L961.8 165.9L962.3 166.3L962.8 165.8L963.3 165.9L963.8 165.8L964.3 165.6L964.8 165.3L965.3 165.2L965.8 165.2L966.3 165.1L966.8 164.9L967.3 165.1L967.8 165.3L968.3 165.1L968.8 164.8L969.3 164.3L969.8 164.0L970.3 163.9L970.8 164.3L971.3 164.3L971.8 164.4L972.3 164.0L972.8 164.0L973.3 163.9L974.3 191.6L974.8 190.4L975.3 189.5L975.8 188.7L976.3 188.1L976.8 187.7L977.3 186.8L977.8 186.3L978.3 185.8L978.8 185.5L979.3 185.2L979.8 185.1L980.3 184.8L980.8 184.4L981.3 183.7L981.8 183.9L982.3 183.5L982.8 183.3L983.3 182.8L983.8 183.1L984.3 183.3L984.8 183.1L985.3 182.9L985.8 182.7L986.3 182.6L986.8 182.3L987.3 182.3L987.8 182.2L988.3 181.7L988.8 181.6L989.3 181.5L989.8 181.3L990.3 180.8L990.8 180.5L991.3 180.4L991.8 180.7L992.3 181.0L992.8 181.1L993.3 180.8L993.8 180.4L994.3 180.5L994.8 180.8L995.3 180.9L995.8 180.9L996.3 180.8L996.8 180.6L997.3 180.2L997.8 180.0L998.3 179.9L998.8 180.2L999.3 180.1L999.8 179.9L1000.3 179.8L1000.8 179.9L1001.3 179.8L1001.8 179.7L1002.3 179.6L1002.8 180.1L1003.3 180.1L1003.8 180.4L1004.3 179.9L1004.8 179.8" stroke="#e69f00" stroke-width="1.1"/>
<path d="M697.3 304.5L697.9 302.6L698.5 300.7L699.1 298.5L699.7 295.2L700.3 292.0L700.9 288.8L701.5 285.7L702.1 282.6L702.7 279.6L703.3 276.5L703.9 273.5L704.5 270.5L705.1 267.3L705.7 263.7L706.3 260.1L706.9 256.5L707.5 252.9L708.1 249.3L708.6 245.8L709.2 242.3L709.8 238.8L710.4 235.3L711.0 231.9L711.6 228.1L712.2 223.8L712.8 219.5L713.4 215.2L714.0 211.0L714.6 206.9L715.2 202.8L715.8 198.8L716.4 194.8L717.0 191.0L717.6 187.4L718.2 183.8L718.8 180.2L719.4 176.8L720.0 173.4L720.6 170.2L721.2 167.0L722.3 198.4L722.8 190.4L723.3 184.0L723.8 178.8L724.3 174.5L724.8 170.7L725.3 167.8L725.8 164.7L726.3 162.3L726.8 160.0L727.3 158.1L727.8 156.1L728.3 154.1L728.8 152.3L729.3 150.8L729.8 149.0L730.3 147.3L730.8 145.7L731.3 144.5L731.8 143.4L732.3 142.0L732.8 140.8L733.3 139.6L733.8 138.6L734.3 137.5L734.8 136.4L735.3 135.6L735.8 134.7L736.3 134.1L736.8 133.2L737.3 132.4L737.8 131.6L738.3 130.9L738.8 130.3L739.3 129.5L739.8 128.9L740.3 128.4L740.8 128.0L741.3 127.1L741.8 126.4L742.3 126.0L742.8 125.5L743.3 125.1L743.8 124.6L744.3 124.3L744.8 123.8L745.3 123.4L745.8 122.9L746.3 122.8L746.8 122.4L747.3 122.2L747.8 121.8L748.3 121.6L748.8 121.2L749.3 121.1L749.8 120.8L750.3 120.6L750.8 120.1L751.3 119.9L751.8 119.9L752.3 119.7L752.8 119.4L753.8 154.7L754.3 150.2L754.8 146.6L755.3 143.7L755.8 141.3L756.3 139.4L756.8 137.7L757.3 136.2L757.8 134.4L758.3 133.0L758.8 131.7L759.3 130.6L759.8 129.4L760.3 128.4L760.8 127.8L761.3 127.1L761.8 126.1L762.3 125.1L762.8 124.2L763.3 123.6L763.8 122.9L764.3 122.3L764.8 121.6L765.3 121.0L765.8 120.2L766.3 119.8L766.8 119.2L767.3 118.8L767.8 118.3L768.3 118.0L768.8 117.3L769.3 116.8L769.8 116.4L770.3 116.1L770.8 115.8L771.3 115.5L771.8 115.0L772.3 114.9L772.8 114.7L773.3 114.5L773.8 114.2L774.3 113.6L774.8 113.5L775.3 113.3L775.8 113.3L776.3 113.1L776.8 112.8L777.3 112.5L777.8 112.3L778.3 112.1L778.8 112.1L779.3 111.8L779.8 111.8L780.3 111.4L780.8 111.4L781.3 111.1L781.8 111.2L782.3 111.1L782.8 110.8L783.3 110.7L783.8 110.5L784.3 110.5L785.3 138.9L785.8 134.9L786.3 131.8L786.8 129.2L787.3 126.9L787.8 125.1L788.3 123.5L788.8 122.2L789.3 120.7L789.8 119.6L790.3 118.5L790.8 117.5L791.3 116.7L791.8 116.0L792.3 115.2L792.8 114.2L793.3 113.4L793.8 112.9L794.3 112.2L794.8 111.4L795.3 110.9L795.8 110.5L796.3 110.0L796.8 109.3L797.3 108.6L797.8 108.0L798.3 107.6L798.8 107.1L799.3 106.6L799.8 106.2L800.3 105.9L800.8 105.8L801.3 105.4L801.8 105.1L802.3 104.7L802.8 104.3L803.3 104.0L803.8 103.5L804.3 103.3L804.8 102.9L805.3 102.6L805.8 102.4L806.3 102.1L806.8 102.2L807.3 102.1L807.8 101.9L808.3 101.6L808.8 101.2L809.3 101.1L809.8 101.1L810.3 101.3L810.8 101.3L811.3 101.0L811.8 100.6L812.3 100.4L812.8 100.1L813.3 100.2L813.8 100.1L814.3 100.2L814.8 99.9L815.3 99.8L815.8 99.6L816.8 138.9L817.3 135.1L817.8 132.1L818.3 129.6L818.8 127.7L819.3 126.2L819.8 124.5L820.3 123.2L820.8 122.0L821.3 121.0L821.8 119.8L822.3 118.8L822.8 117.9L823.3 117.3L823.8 116.7L824.3 116.2L824.8 115.4L825.3 114.5L825.8 113.6L826.3 112.8L826.8 112.1L827.3 111.6L827.8 111.2L828.3 110.8L828.8 110.5L829.3 110.1L829.8 109.7L830.3 109.1L830.8 108.5L831.3 108.0L831.8 107.6L832.3 107.4L832.8 107.3L833.3 107.2L833.8 106.8L834.3 106.4L834.8 106.2L835.3 106.1L835.8 105.9L836.3 105.6L836.8 105.4L837.3 105.0L837.8 104.8L838.3 104.7L838.8 104.4L839.3 104.1L839.8 103.9L840.3 103.8L840.8 103.6L841.3 103.3L841.8 103.3L842.3 103.2L842.8 103.2L843.3 102.8L843.8 102.8L844.3 102.7L844.8 102.7L845.3 102.4L845.8 102.3L846.3 102.3L846.8 102.2L847.3 102.0L848.3 140.9L848.8 136.8L849.3 133.5L849.8 130.9L850.3 128.7L850.8 127.0L851.3 125.4L851.8 124.1L852.3 122.8L852.8 121.3L853.3 120.3L853.8 119.3L854.3 118.5L854.8 117.5L855.3 116.6L855.8 115.6L856.3 114.8L856.8 114.1L857.3 113.4L857.8 112.7L858.3 112.2L858.8 111.5L859.3 111.0L859.8 110.5L860.3 110.0L860.8 109.7L861.3 108.9L861.8 108.5L862.3 108.2L862.8 107.9L863.3 107.5L863.8 106.9L864.3 106.5L864.8 106.0L865.3 105.8L865.8 105.2L866.3 105.0L866.8 104.6L867.3 104.5L867.8 104.2L868.3 103.9L868.8 103.6L869.3 103.7L869.8 103.6L870.3 103.4L870.8 103.2L871.3 103.0L871.8 102.6L872.3 102.4L872.8 102.5L873.3 102.4L873.8 102.1L874.3 101.9L874.8 101.8L875.3 101.6L875.8 101.2L876.3 101.0L876.8 101.2L877.3 101.3L877.8 101.0L878.3 100.6L878.8 100.4L879.8 130.1L880.3 128.0L880.8 126.3L881.3 124.9L881.8 123.9L882.3 122.8L882.8 121.9L883.3 121.1L883.8 120.5L884.3 119.9L884.8 119.2L885.3 118.8L885.8 118.4L886.3 117.9L886.8 117.4L887.3 117.1L887.8 116.7L888.3 116.3L888.8 115.8L889.3 115.5L889.8 115.2L890.3 115.0L890.8 114.6L891.3 114.3L891.8 114.1L892.3 113.7L892.8 113.7L893.3 113.4L893.8 113.2L894.3 113.0L894.8 112.8L895.3 112.8L895.8 112.5L896.3 112.3L896.8 112.1L897.3 111.9L897.8 111.8L898.3 111.5L898.8 111.4L899.3 111.1L899.8 111.2L900.3 111.2L900.8 111.2L901.3 111.0L901.8 110.7L902.3 110.5L902.8 110.2L903.3 110.1L903.8 109.9L904.3 110.2L904.8 110.0L905.3 110.1L905.8 110.0L906.3 110.0L906.8 109.9L907.3 109.6L907.8 109.4L908.3 109.3L908.8 109.4L909.3 109.7L909.8 109.6L910.3 109.5L911.3 137.9L911.8 133.7L912.3 130.4L912.8 127.8L913.3 125.4L913.8 123.5L914.3 121.8L914.8 120.3L915.3 118.9L915.8 117.6L916.3 116.8L916.8 115.8L917.3 114.6L917.8 113.7L918.3 112.6L918.8 111.8L919.3 110.8L919.8 110.2L920.3 109.6L920.8 108.9L921.3 108.3L921.8 107.9L922.3 107.6L922.8 106.8L923.3 106.0L923.8 105.3L924.3 104.6L924.8 104.4L925.3 104.0L925.8 103.8L926.3 103.3L926.8 102.9L927.3 102.5L927.8 102.3L928.3 102.0L928.8 101.7L929.3 101.3L929.8 100.8L930.3 100.5L930.8 100.1L931.3 100.0L931.8 99.7L932.3 99.6L932.8 99.1L933.3 99.0L933.8 98.6L934.3 98.6L934.8 98.4L935.3 98.1L935.8 98.0L936.3 97.8L936.8 97.7L937.3 97.3L937.8 97.0L938.3 97.1L938.8 97.0L939.3 96.9L939.8 96.8L940.3 96.8L940.8 96.8L941.3 96.5L941.8 96.4L942.8 136.6L943.3 132.3L943.8 128.8L944.3 126.0L944.8 123.8L945.3 122.0L945.8 120.2L946.3 118.6L946.8 117.3L947.3 116.2L947.8 115.1L948.3 113.9L948.8 112.8L949.3 111.7L949.8 110.8L950.3 110.1L950.8 109.5L951.3 108.6L951.8 107.8L952.3 106.9L952.8 106.4L953.3 105.6L953.8 105.0L954.3 104.3L954.8 103.8L955.3 103.4L955.8 103.0L956.3 102.5L956.8 101.9L957.3 101.3L957.8 100.9L958.3 100.6L958.8 100.2L959.3 99.7L959.8 99.6L960.3 99.3L960.8 98.9L961.3 98.4L961.8 98.3L962.3 98.0L962.8 97.8L963.3 97.4L963.8 97.1L964.3 96.9L964.8 96.9L965.3 96.9L965.8 96.8L966.3 96.3L966.8 96.0L967.3 95.8L967.8 95.7L968.3 95.7L968.8 95.2L969.3 95.1L969.8 94.8L970.3 95.0L970.8 94.7L971.3 94.7L971.8 94.4L972.3 94.4L972.8 94.2L973.3 94.2L974.3 140.2L974.8 136.2L975.3 133.1L975.8 130.5L976.3 128.3L976.8 126.4L977.3 124.8L977.8 123.5L978.3 122.4L978.8 121.3L979.3 120.2L979.8 119.1L980.3 118.1L980.8 117.1L981.3 116.0L981.8 115.4L982.3 114.6L982.8 113.9L983.3 113.2L983.8 112.5L984.3 112.2L984.8 111.6L985.3 111.2L985.8 110.5L986.3 109.9L986.8 109.3L987.3 109.0L987.8 108.4L988.3 108.2L988.8 107.7L989.3 107.6L989.8 107.3L990.3 106.8L990.8 106.5L991.3 105.9L991.8 105.4L992.3 105.1L992.8 104.9L993.3 104.6L993.8 104.1L994.3 104.0L994.8 103.8L995.3 103.6L995.8 103.2L996.3 103.2L996.8 103.0L997.3 102.9L997.8 102.5L998.3 102.3L998.8 102.2L999.3 102.1L999.8 102.3L1000.3 102.0L1000.8 101.9L1001.3 101.7L1001.8 101.7L1002.3 101.5L1002.8 101.4L1003.3 101.1L1003.8 101.2L1004.3 101.2L1004.8 101.3L1004.8 124.4L1004.3 124.2L1003.8 124.2L1003.3 124.0L1002.8 124.3L1002.3 124.5L1001.8 124.7L1001.3 124.6L1000.8 124.7L1000.3 124.8L999.8 125.1L999.3 124.9L998.8 124.9L998.3 125.0L997.8 125.1L997.3 125.6L996.8 125.5L996.3 125.8L995.8 125.7L995.3 126.1L994.8 126.2L994.3 126.3L993.8 126.4L993.3 126.9L992.8 127.2L992.3 127.3L991.8 127.6L991.3 128.0L990.8 128.6L990.3 128.9L989.8 129.3L989.3 129.5L988.8 129.5L988.3 129.9L987.8 130.0L987.3 130.6L986.8 130.8L986.3 131.3L985.8 131.8L985.3 132.5L984.8 132.8L984.3 133.3L983.8 133.4L983.3 133.9L982.8 134.5L982.3 135.1L981.8 135.8L981.3 136.3L980.8 137.3L980.3 138.2L979.8 139.2L979.3 140.1L978.8 141.2L978.3 142.2L977.8 143.2L977.3 144.5L976.8 146.2L976.3 148.2L975.8 150.7L975.3 153.8L974.8 157.8L974.3 163.0L973.3 115.0L972.8 114.9L972.3 115.2L971.8 115.1L971.3 115.4L970.8 115.3L970.3 115.6L969.8 115.4L969.3 115.7L968.8 115.7L968.3 116.3L967.8 116.2L967.3 116.3L966.8 116.4L966.3 116.8L965.8 117.3L965.3 117.3L964.8 117.2L964.3 117.1L963.8 117.3L963.3 117.5L962.8 117.9L962.3 118.0L961.8 118.3L961.3 118.4L960.8 118.8L960.3 119.2L959.8 119.4L959.3 119.4L958.8 119.8L958.3 120.2L957.8 120.4L957.3 120.7L956.8 121.3L956.3 121.8L955.8 122.3L955.3 122.6L954.8 122.8L954.3 123.2L953.8 123.8L953.3 124.3L952.8 125.0L952.3 125.4L951.8 126.3L951.3 126.9L950.8 127.8L950.3 128.2L949.8 128.7L949.3 129.4L948.8 130.5L948.3 131.5L947.8 132.5L947.3 133.6L946.8 134.5L946.3 135.7L945.8 137.3L945.3 139.2L944.8 141.2L944.3 143.7L943.8 147.0L943.3 151.4L942.8 157.0L941.8 117.1L941.3 117.3L940.8 117.6L940.3 117.6L939.8 117.4L939.3 117.5L938.8 117.6L938.3 117.7L937.8 117.6L937.3 117.8L936.8 118.3L936.3 118.3L935.8 118.5L935.3 118.5L934.8 118.8L934.3 118.9L933.8 119.0L933.3 119.3L932.8 119.3L932.3 119.8L931.8 119.9L931.3 120.1L930.8 120.1L930.3 120.5L929.8 120.7L929.3 121.3L928.8 121.6L928.3 121.9L927.8 122.1L927.3 122.1L926.8 122.6L926.3 122.8L925.8 123.3L925.3 123.4L924.8 123.7L924.3 123.8L923.8 124.3L923.3 125.0L922.8 125.8L922.3 126.5L921.8 126.6L921.3 127.0L920.8 127.4L920.3 128.0L919.8 128.4L919.3 128.8L918.8 129.7L918.3 130.4L917.8 131.4L917.3 132.3L916.8 133.3L916.3 134.2L915.8 134.8L915.3 136.0L914.8 137.4L914.3 138.8L913.8 140.6L913.3 142.7L912.8 145.3L912.3 148.4L911.8 152.5L911.3 158.0L910.3 130.3L909.8 130.5L909.3 130.6L908.8 130.3L908.3 130.0L907.8 130.1L907.3 130.4L906.8 130.8L906.3 130.8L905.8 130.8L905.3 130.8L904.8 130.8L904.3 130.9L903.8 130.5L903.3 130.7L902.8 130.8L902.3 131.1L901.8 131.3L901.3 131.6L900.8 131.8L900.3 131.8L899.8 131.7L899.3 131.6L898.8 131.8L898.3 131.9L897.8 132.2L897.3 132.2L896.8 132.4L896.3 132.6L895.8 132.8L895.3 133.1L894.8 133.0L894.3 133.1L893.8 133.2L893.3 133.4L892.8 133.8L892.3 133.6L891.8 133.9L891.3 134.1L890.8 134.4L890.3 134.7L889.8 134.9L889.3 135.0L888.8 135.3L888.3 135.8L887.8 136.0L887.3 136.4L886.8 136.6L886.3 137.1L885.8 137.5L885.3 137.7L884.8 138.1L884.3 138.6L883.8 139.2L883.3 139.8L882.8 140.5L882.3 141.5L881.8 142.6L881.3 143.7L880.8 145.3L880.3 147.3L879.8 150.0L878.8 117.7L878.3 118.0L877.8 118.4L877.3 118.7L876.8 118.6L876.3 118.3L875.8 118.4L875.3 118.9L874.8 119.2L874.3 119.1L873.8 119.3L873.3 119.6L872.8 119.7L872.3 119.5L871.8 119.7L871.3 120.1L870.8 120.3L870.3 120.4L869.8 120.6L869.3 120.6L868.8 120.4L868.3 120.7L867.8 121.0L867.3 121.2L866.8 121.2L866.3 121.6L865.8 121.8L865.3 122.3L864.8 122.4L864.3 122.9L863.8 123.2L863.3 123.9L862.8 124.2L862.3 124.4L861.8 124.6L861.3 124.8L860.8 125.6L860.3 125.9L859.8 126.3L859.3 126.6L858.8 127.0L858.3 127.6L857.8 128.0L857.3 128.6L856.8 129.1L856.3 129.8L855.8 130.5L855.3 131.4L854.8 132.2L854.3 133.1L853.8 133.7L853.3 134.6L852.8 135.5L852.3 136.9L851.8 138.2L851.3 139.5L850.8 141.1L850.3 142.9L849.8 145.4L849.3 148.5L848.8 152.7L848.3 158.0L847.3 122.8L846.8 123.0L846.3 123.1L845.8 123.1L845.3 123.2L844.8 123.4L844.3 123.4L843.8 123.5L843.3 123.4L842.8 123.8L842.3 123.7L841.8 123.9L841.3 123.8L840.8 124.0L840.3 124.2L839.8 124.2L839.3 124.5L838.8 124.8L838.3 125.0L837.8 125.1L837.3 125.2L836.8 125.6L836.3 125.8L835.8 126.0L835.3 126.2L834.8 126.1L834.3 126.3L833.8 126.6L833.3 127.0L832.8 127.0L832.3 127.0L831.8 127.0L831.3 127.4L830.8 127.8L830.3 128.3L829.8 129.0L829.3 129.2L828.8 129.5L828.3 129.7L827.8 129.9L827.3 130.2L826.8 130.6L826.3 131.2L825.8 132.0L825.3 132.8L824.8 133.6L824.3 134.2L823.8 134.6L823.3 134.9L822.8 135.4L822.3 136.2L821.8 137.1L821.3 138.1L820.8 139.0L820.3 140.1L819.8 141.4L819.3 143.1L818.8 144.7L818.3 146.8L817.8 149.6L817.3 153.3L816.8 158.0L815.8 119.2L815.3 119.5L814.8 119.5L814.3 119.8L813.8 119.7L813.3 119.8L812.8 119.6L812.3 119.9L811.8 120.1L811.3 120.6L810.8 120.9L810.3 120.8L809.8 120.5L809.3 120.4L808.8 120.5L808.3 120.9L807.8 121.2L807.3 121.3L806.8 121.3L806.3 121.2L805.8 121.4L805.3 121.5L804.8 121.9L804.3 122.1L803.8 122.3L803.3 122.8L802.8 123.1L802.3 123.4L801.8 123.8L801.3 124.1L800.8 124.4L800.3 124.3L799.8 124.5L799.3 124.9L798.8 125.3L798.3 125.8L797.8 126.1L797.3 126.6L796.8 127.2L796.3 127.9L795.8 128.4L795.3 128.5L794.8 128.9L794.3 129.6L793.8 130.2L793.3 130.6L792.8 131.3L792.3 132.2L791.8 132.9L791.3 133.4L790.8 134.0L790.3 135.0L789.8 135.9L789.3 136.9L788.8 138.3L788.3 139.7L787.8 141.4L787.3 143.3L786.8 145.8L786.3 149.0L785.8 152.9L785.3 158.0L784.3 128.6L783.8 128.5L783.3 128.7L782.8 128.9L782.3 129.1L781.8 129.3L781.3 129.1L780.8 129.4L780.3 129.4L779.8 129.8L779.3 129.8L778.8 130.1L778.3 130.1L777.8 130.3L777.3 130.5L776.8 130.8L776.3 131.1L775.8 131.3L775.3 131.3L774.8 131.5L774.3 131.5L773.8 132.1L773.3 132.5L772.8 132.6L772.3 132.8L771.8 132.8L771.3 133.3L770.8 133.6L770.3 133.9L769.8 134.2L769.3 134.5L768.8 135.1L768.3 135.8L767.8 136.1L767.3 136.7L766.8 136.9L766.3 137.5L765.8 137.9L765.3 138.7L764.8 139.3L764.3 140.0L763.8 140.6L763.3 141.4L762.8 141.9L762.3 142.8L761.8 143.8L761.3 144.9L760.8 145.6L760.3 146.1L759.8 147.0L759.3 148.3L758.8 149.5L758.3 150.9L757.8 152.5L757.3 154.5L756.8 156.3L756.3 158.4L755.8 160.9L755.3 164.1L754.8 168.2L754.3 173.6L753.8 180.6L752.8 137.2L752.3 137.4L751.8 137.6L751.3 137.5L750.8 137.7L750.3 138.3L749.8 138.4L749.3 138.6L748.8 138.6L748.3 139.0L747.8 139.2L747.3 139.5L746.8 139.7L746.3 140.0L745.8 140.1L745.3 140.5L744.8 140.9L744.3 141.4L743.8 141.5L743.3 142.0L742.8 142.3L742.3 142.7L741.8 143.1L741.3 143.7L740.8 144.6L740.3 144.9L739.8 145.3L739.3 145.7L738.8 146.5L738.3 147.0L737.8 147.5L737.3 148.3L736.8 149.0L736.3 149.8L735.8 150.2L735.3 150.9L734.8 151.6L734.3 152.6L733.8 153.6L733.3 154.4L732.8 155.4L732.3 156.4L731.8 157.7L731.3 158.6L730.8 159.7L730.3 161.1L729.8 162.7L729.3 164.3L728.8 165.6L728.3 167.2L727.8 169.0L727.3 170.9L726.8 172.5L726.3 174.8L725.8 177.1L725.3 180.4L724.8 183.5L724.3 187.7L723.8 192.8L723.3 199.3L722.8 207.6L722.3 218.5L724.2 186.0L723.6 187.5L722.9 189.2L722.3 191.0L721.6 193.1L721.0 195.3L720.3 197.7L719.7 200.3L719.1 203.1L718.4 206.1L717.8 209.2L717.1 212.5L716.5 216.0L715.8 219.5L715.2 223.2L714.6 227.0L713.9 230.9L713.3 234.2L712.6 237.3L712.0 240.5L711.3 243.7L710.7 246.9L710.1 250.3L709.4 253.6L708.8 257.1L708.1 260.5L707.5 264.0L706.8 267.6L706.2 270.7L705.6 273.6L704.9 276.6L704.3 279.7L703.6 282.7L703.0 285.7L702.3 288.8L701.7 292.0L701.1 295.2L700.4 298.5L699.8 300.7L699.1 302.6L698.5 304.5Z" fill="#cc79a7" fill-opacity="0.30" stroke="none"/>
<path d="M697.9 304.5L698.5 302.6L699.1 300.7L699.7 298.5L700.3 295.2L700.9 292.0L701.5 288.8L702.2 285.7L702.8 282.7L703.4 279.6L704.0 276.6L704.6 273.6L705.2 270.6L705.8 267.4L706.4 263.8L707.0 260.3L707.6 256.7L708.2 253.2L708.9 249.8L709.5 246.3L710.1 242.9L710.7 239.6L711.3 236.3L711.9 233.0L712.5 229.4L713.1 225.3L713.7 221.2L714.3 217.3L714.9 213.4L715.6 209.6L716.2 205.8L716.8 202.2L717.4 198.7L718.0 195.4L718.6 192.3L719.2 189.2L719.8 186.3L720.4 183.5L721.0 180.9L721.6 178.4L722.2 176.0L722.3 206.5L722.8 198.5L723.3 192.2L723.8 187.0L724.3 182.6L724.8 179.0L725.3 175.9L725.8 173.1L726.3 170.5L726.8 168.1L727.3 166.1L727.8 164.2L728.3 162.9L728.8 160.7L729.3 159.0L729.8 157.4L730.3 155.8L730.8 154.6L731.3 153.0L731.8 152.0L732.3 150.6L732.8 149.5L733.3 148.4L733.8 147.6L734.3 146.5L734.8 145.6L735.3 144.2L735.8 143.5L736.3 142.8L736.8 142.0L737.3 141.0L737.8 140.2L738.3 139.8L738.8 139.3L739.3 138.5L739.8 137.5L740.3 137.0L740.8 136.2L741.3 135.7L741.8 135.1L742.3 134.8L742.8 134.7L743.3 134.1L743.8 133.8L744.3 133.1L744.8 132.9L745.3 132.6L745.8 132.5L746.3 131.8L746.8 131.2L747.3 131.0L747.8 131.1L748.3 131.0L748.8 130.6L749.3 129.9L749.8 129.9L750.3 129.6L750.8 129.8L751.3 129.1L751.8 129.0L752.3 128.5L752.8 128.8L753.8 163.0L754.3 158.6L754.8 155.1L755.3 152.2L755.8 149.7L756.3 147.9L756.8 146.2L757.3 145.0L757.8 143.4L758.3 141.8L758.8 140.3L759.3 139.0L759.8 138.3L760.3 137.5L760.8 136.7L761.3 135.6L761.8 134.6L762.3 133.9L762.8 133.2L763.3 132.7L763.8 132.3L764.3 131.6L764.8 130.5L765.3 129.4L765.8 129.2L766.3 128.8L766.8 128.5L767.3 127.7L767.8 127.2L768.3 126.7L768.8 126.5L769.3 126.5L769.8 126.1L770.3 125.5L770.8 124.8L771.3 124.5L771.8 124.3L772.3 124.0L772.8 123.7L773.3 123.4L773.8 123.2L774.3 123.2L774.8 123.0L775.3 122.7L775.8 122.4L776.3 122.1L776.8 121.6L777.3 121.0L777.8 120.8L778.3 120.7L778.8 120.9L779.3 120.6L779.8 120.5L780.3 120.3L780.8 120.5L781.3 120.2L781.8 119.9L782.3 119.6L782.8 119.7L783.3 119.5L783.8 119.5L784.3 119.5L785.3 147.7L785.8 143.8L786.3 140.8L786.8 138.2L787.3 136.0L787.8 134.1L788.3 132.5L788.8 131.3L789.3 130.3L789.8 129.6L790.3 128.2L790.8 126.7L791.3 125.6L791.8 125.0L792.3 124.6L792.8 123.7L793.3 123.0L793.8 122.1L794.3 121.9L794.8 121.1L795.3 120.6L795.8 119.9L796.3 119.3L796.8 119.0L797.3 118.4L797.8 118.2L798.3 117.4L798.8 117.2L799.3 116.7L799.8 116.7L800.3 116.1L800.8 115.4L801.3 114.6L801.8 113.9L802.3 113.8L802.8 114.0L803.3 114.2L803.8 114.2L804.3 113.8L804.8 113.3L805.3 112.8L805.8 112.6L806.3 112.3L806.8 112.3L807.3 112.2L807.8 112.0L808.3 111.8L808.8 111.4L809.3 111.3L809.8 110.9L810.3 110.5L810.8 110.4L811.3 110.4L811.8 110.2L812.3 109.7L812.8 109.5L813.3 109.9L813.8 109.9L814.3 109.9L814.8 109.5L815.3 109.8L815.8 109.8L816.8 147.7L817.3 144.1L817.8 141.2L818.3 139.0L818.8 137.0L819.3 135.1L819.8 133.3L820.3 131.8L820.8 131.0L821.3 130.2L821.8 129.6L822.3 128.6L822.8 127.7L823.3 127.0L823.8 125.9L824.3 125.3L824.8 124.1L825.3 123.7L825.8 122.8L826.3 122.4L826.8 121.6L827.3 120.9L827.8 120.3L828.3 119.8L828.8 119.8L829.3 119.4L829.8 119.0L830.3 118.4L830.8 118.3L831.3 118.3L831.8 118.1L832.3 117.4L832.8 117.1L833.3 116.6L833.8 116.7L834.3 116.0L834.8 115.8L835.3 115.4L835.8 115.1L836.3 114.5L836.8 114.5L837.3 114.4L837.8 114.4L838.3 114.2L838.8 113.9L839.3 113.7L839.8 113.1L840.3 112.9L840.8 112.6L841.3 112.5L841.8 112.8L842.3 112.5L842.8 112.5L843.3 112.5L843.8 112.6L844.3 112.6L844.8 112.1L845.3 112.0L845.8 111.5L846.3 111.5L846.8 111.5L847.3 111.7L848.3 147.7L848.8 143.6L849.3 140.4L849.8 137.9L850.3 135.8L850.8 134.1L851.3 132.2L851.8 130.6L852.3 129.2L852.8 128.1L853.3 127.2L853.8 126.1L854.3 125.2L854.8 124.2L855.3 123.6L855.8 123.2L856.3 122.6L856.8 121.7L857.3 121.0L857.8 120.2L858.3 119.4L858.8 119.0L859.3 119.0L859.8 118.8L860.3 118.1L860.8 117.3L861.3 116.7L861.8 116.2L862.3 115.8L862.8 115.1L863.3 114.8L863.8 114.7L864.3 114.4L864.8 113.7L865.3 113.3L865.8 113.3L866.3 113.0L866.8 112.8L867.3 112.6L867.8 112.5L868.3 112.2L868.8 112.0L869.3 111.7L869.8 111.3L870.3 110.8L870.8 110.7L871.3 110.7L871.8 110.4L872.3 109.9L872.8 109.7L873.3 109.5L873.8 109.1L874.3 109.0L874.8 108.9L875.3 108.9L875.8 108.6L876.3 108.6L876.8 108.7L877.3 108.7L877.8 108.4L878.3 108.1L878.8 107.6L879.8 139.0L880.3 137.0L880.8 135.5L881.3 134.2L881.8 133.0L882.3 132.1L882.8 131.0L883.3 130.5L883.8 129.9L884.3 129.1L884.8 128.8L885.3 128.4L885.8 128.0L886.3 127.3L886.8 126.8L887.3 126.3L887.8 126.1L888.3 125.7L888.8 125.6L889.3 125.1L889.8 125.2L890.3 124.7L890.8 124.7L891.3 124.3L891.8 124.3L892.3 124.1L892.8 123.6L893.3 123.3L893.8 123.0L894.3 122.8L894.8 122.3L895.3 121.7L895.8 121.8L896.3 122.2L896.8 122.4L897.3 122.4L897.8 121.9L898.3 121.6L898.8 121.3L899.3 121.5L899.8 121.2L900.3 121.1L900.8 121.0L901.3 120.7L901.8 120.8L902.3 120.4L902.8 120.5L903.3 120.4L903.8 120.5L904.3 120.3L904.8 120.0L905.3 120.0L905.8 119.9L906.3 119.8L906.8 119.6L907.3 119.9L907.8 120.0L908.3 119.9L908.8 120.0L909.3 119.6L909.8 119.2L910.3 118.8L911.3 147.7L911.8 143.6L912.3 140.3L912.8 137.6L913.3 135.4L913.8 133.7L914.3 132.4L914.8 130.6L915.3 129.1L915.8 127.7L916.3 127.1L916.8 126.2L917.3 125.4L917.8 124.1L918.3 123.0L918.8 122.2L919.3 121.7L919.8 121.3L920.3 120.5L920.8 120.1L921.3 119.5L921.8 118.9L922.3 118.1L922.8 117.4L923.3 116.7L923.8 116.5L924.3 115.7L924.8 115.2L925.3 114.8L925.8 114.4L926.3 113.6L926.8 113.2L927.3 113.2L927.8 112.9L928.3 112.1L928.8 111.4L929.3 111.4L929.8 111.4L930.3 111.2L930.8 111.1L931.3 111.0L931.8 111.0L932.3 110.3L932.8 109.9L933.3 109.4L933.8 109.2L934.3 109.1L934.8 108.9L935.3 109.0L935.8 109.0L936.3 109.2L936.8 109.1L937.3 108.9L937.8 108.5L938.3 108.3L938.8 108.0L939.3 108.1L939.8 108.1L940.3 107.9L940.8 107.6L941.3 107.1L941.8 106.9L942.8 145.5L943.3 141.4L943.8 138.1L944.3 135.3L944.8 132.9L945.3 130.9L945.8 129.1L946.3 127.9L946.8 126.7L947.3 125.6L947.8 124.1L948.3 123.0L948.8 122.1L949.3 121.5L949.8 120.1L950.3 119.8L950.8 118.9L951.3 118.4L951.8 117.6L952.3 116.6L952.8 116.1L953.3 115.5L953.8 114.8L954.3 114.3L954.8 113.3L955.3 113.3L955.8 112.5L956.3 111.9L956.8 111.4L957.3 111.1L957.8 111.1L958.3 110.5L958.8 110.2L959.3 109.6L959.8 109.6L960.3 109.3L960.8 108.8L961.3 108.2L961.8 107.8L962.3 108.0L962.8 107.8L963.3 107.5L963.8 107.0L964.3 106.7L964.8 107.0L965.3 106.5L965.8 106.1L966.3 105.6L966.8 105.9L967.3 106.1L967.8 106.2L968.3 105.9L968.8 105.2L969.3 104.9L969.8 104.6L970.3 104.4L970.8 104.0L971.3 104.2L971.8 104.6L972.3 104.7L972.8 104.5L973.3 104.2L974.3 150.0L974.8 146.0L975.3 143.0L975.8 140.5L976.3 138.4L976.8 136.7L977.3 134.9L977.8 133.8L978.3 132.2L978.8 131.1L979.3 129.8L979.8 129.3L980.3 128.7L980.8 128.2L981.3 127.2L981.8 126.6L982.3 125.7L982.8 125.0L983.3 124.3L983.8 123.7L984.3 123.1L984.8 122.1L985.3 121.4L985.8 121.0L986.3 120.8L986.8 120.7L987.3 119.7L987.8 119.2L988.3 118.4L988.8 118.1L989.3 117.5L989.8 117.0L990.3 116.9L990.8 116.7L991.3 116.5L991.8 116.2L992.3 116.0L992.8 115.7L993.3 115.1L993.8 115.0L994.3 115.0L994.8 114.9L995.3 114.8L995.8 114.5L996.3 114.3L996.8 114.1L997.3 113.9L997.8 113.9L998.3 113.4L998.8 113.3L999.3 112.7L999.8 112.8L1000.3 112.5L1000.8 112.4L1001.3 112.0L1001.8 112.3L1002.3 112.5L1002.8 112.4L1003.3 112.3L1003.8 112.2L1004.3 111.8L1004.8 111.5" stroke="#cc79a7" stroke-width="1.1"/>
<path d="M696.6 304.5L697.2 302.6L697.8 300.7L698.4 298.5L699.0 295.2L699.6 292.0L700.2 288.8L700.8 285.7L701.4 282.6L702.0 279.6L702.6 276.5L703.2 273.4L703.8 270.4L704.4 267.2L705.0 263.5L705.6 259.9L706.2 256.2L706.8 252.6L707.4 249.0L707.9 245.4L708.5 241.8L709.1 238.2L709.7 234.6L710.3 231.1L710.9 227.1L711.5 222.6L712.1 218.1L712.7 213.6L713.3 209.2L713.9 204.8L714.5 200.4L715.1 196.1L715.7 191.8L716.3 187.6L716.9 183.5L717.5 179.5L718.1 175.5L718.7 171.6L719.3 167.7L719.9 163.8L720.5 160.0L722.3 187.7L722.8 178.8L723.3 171.7L723.8 165.8L724.3 161.1L724.8 156.8L725.3 153.4L725.8 150.3L726.3 147.8L726.8 145.1L727.3 142.6L727.8 140.2L728.3 138.0L728.8 136.0L729.3 134.1L729.8 132.5L730.3 130.8L730.8 129.3L731.3 127.8L731.8 126.3L732.3 124.7L732.8 123.3L733.3 122.0L733.8 120.9L734.3 119.6L734.8 118.5L735.3 117.5L735.8 116.7L736.3 115.7L736.8 115.0L737.3 113.9L737.8 112.9L738.3 112.0L738.8 111.4L739.3 110.9L739.8 110.1L740.3 109.3L740.8 108.5L741.3 108.1L741.8 107.6L742.3 106.8L742.8 106.1L743.3 105.6L743.8 105.2L744.3 104.7L744.8 104.5L745.3 104.3L745.8 104.0L746.3 103.4L746.8 103.0L747.3 102.6L747.8 102.5L748.3 102.1L748.8 101.7L749.3 101.2L749.8 100.8L750.3 100.4L750.8 100.1L751.3 99.9L751.8 99.8L752.3 99.8L752.8 99.5L753.8 139.1L754.3 133.8L754.8 129.5L755.3 126.0L755.8 123.2L756.3 120.8L756.8 118.6L757.3 116.6L757.8 115.0L758.3 113.6L758.8 112.2L759.3 110.7L759.8 109.4L760.3 108.1L760.8 107.0L761.3 105.8L761.8 104.8L762.3 103.9L762.8 103.0L763.3 102.3L763.8 101.6L764.3 101.0L764.8 100.0L765.3 99.1L765.8 98.5L766.3 98.0L766.8 97.3L767.3 96.7L767.8 96.1L768.3 95.6L768.8 95.1L769.3 94.8L769.8 94.3L770.3 93.7L770.8 93.0L771.3 92.8L771.8 92.5L772.3 92.2L772.8 92.0L773.3 91.5L773.8 91.3L774.3 90.8L774.8 90.7L775.3 90.2L775.8 89.9L776.3 89.6L776.8 89.4L777.3 89.0L777.8 88.5L778.3 88.4L778.8 88.2L779.3 88.3L779.8 88.1L780.3 88.0L780.8 87.7L781.3 87.3L781.8 87.0L782.3 86.9L782.8 86.8L783.3 86.6L783.8 86.3L784.3 86.1L785.3 117.1L785.8 113.0L786.3 109.7L786.8 107.1L787.3 104.8L787.8 103.0L788.3 101.2L788.8 99.6L789.3 98.5L789.8 97.3L790.3 96.3L790.8 95.0L791.3 94.0L791.8 93.1L792.3 92.5L792.8 91.8L793.3 91.0L793.8 90.3L794.3 89.4L794.8 89.0L795.3 88.0L795.8 87.6L796.3 86.8L796.8 86.4L797.3 86.0L797.8 85.5L798.3 85.0L798.8 84.6L799.3 84.2L799.8 83.9L800.3 83.2L800.8 82.8L801.3 82.4L801.8 82.1L802.3 81.8L802.8 81.5L803.3 81.2L803.8 81.1L804.3 80.5L804.8 80.2L805.3 79.9L805.8 79.7L806.3 79.2L806.8 78.9L807.3 78.7L807.8 78.5L808.3 78.4L808.8 78.4L809.3 78.5L809.8 78.5L810.3 78.3L810.8 78.0L811.3 78.0L811.8 77.8L812.3 77.8L812.8 77.4L813.3 77.3L813.8 77.2L814.3 77.2L814.8 77.3L815.3 77.1L815.8 77.0L816.8 120.5L817.3 116.2L817.8 112.8L818.3 110.0L818.8 107.6L819.3 105.5L819.8 103.6L820.3 102.3L820.8 100.8L821.3 99.8L821.8 98.5L822.3 97.5L822.8 96.4L823.3 95.3L823.8 94.7L824.3 93.6L824.8 93.1L825.3 92.1L825.8 91.3L826.3 90.3L826.8 89.7L827.3 89.3L827.8 88.8L828.3 88.3L828.8 87.7L829.3 87.3L829.8 86.8L830.3 86.4L830.8 85.8L831.3 85.3L831.8 84.7L832.3 84.4L832.8 84.0L833.3 83.7L833.8 83.3L834.3 83.0L834.8 82.5L835.3 82.1L835.8 82.0L836.3 81.7L836.8 81.2L837.3 80.9L837.8 80.9L838.3 80.9L838.8 80.6L839.3 80.4L839.8 80.0L840.3 79.5L840.8 79.4L841.3 79.3L841.8 79.4L842.3 79.1L842.8 79.2L843.3 79.0L843.8 78.7L844.3 78.3L844.8 78.1L845.3 78.1L845.8 78.2L846.3 77.9L846.8 77.9L847.3 77.8L848.3 121.5L848.8 117.1L849.3 113.6L849.8 110.7L850.3 108.2L850.8 106.1L851.3 104.4L851.8 102.9L852.3 101.8L852.8 100.5L853.3 99.3L853.8 98.2L854.3 97.1L854.8 95.9L855.3 94.7L855.8 93.8L856.3 93.0L856.8 92.4L857.3 91.8L857.8 91.1L858.3 90.3L858.8 89.7L859.3 89.2L859.8 88.7L860.3 88.1L860.8 87.6L861.3 87.0L861.8 86.4L862.3 85.8L862.8 85.2L863.3 84.6L863.8 84.2L864.3 84.0L864.8 83.8L865.3 83.4L865.8 82.8L866.3 82.3L866.8 82.0L867.3 82.0L867.8 81.9L868.3 81.6L868.8 81.4L869.3 81.1L869.8 81.1L870.3 80.5L870.8 80.2L871.3 79.7L871.8 79.7L872.3 79.6L872.8 79.5L873.3 79.1L873.8 78.9L874.3 78.6L874.8 78.5L875.3 78.3L875.8 78.0L876.3 78.1L876.8 78.2L877.3 78.3L877.8 78.2L878.3 77.8L878.8 77.6L879.8 110.5L880.3 108.0L880.8 106.0L881.3 104.4L881.8 103.1L882.3 102.1L882.8 101.3L883.3 100.5L883.8 99.9L884.3 99.1L884.8 98.4L885.3 97.5L885.8 96.9L886.3 96.1L886.8 95.8L887.3 95.3L887.8 95.2L888.3 94.6L888.8 94.4L889.3 93.9L889.8 93.6L890.3 93.1L890.8 92.8L891.3 92.7L891.8 92.3L892.3 91.8L892.8 91.4L893.3 91.3L893.8 91.3L894.3 90.8L894.8 90.5L895.3 90.2L895.8 90.0L896.3 89.6L896.8 89.3L897.3 89.2L897.8 89.2L898.3 88.8L898.8 88.5L899.3 88.2L899.8 88.2L900.3 88.1L900.8 88.0L901.3 87.9L901.8 88.0L902.3 88.0L902.8 87.9L903.3 87.6L903.8 87.5L904.3 87.2L904.8 87.3L905.3 87.2L905.8 87.3L906.3 87.2L906.8 87.2L907.3 87.1L907.8 87.0L908.3 86.6L908.8 86.4L909.3 86.3L909.8 86.3L910.3 86.3L911.3 124.3L911.8 119.8L912.3 116.2L912.8 113.2L913.3 110.6L913.8 108.5L914.3 106.7L914.8 105.1L915.3 103.7L915.8 102.6L916.3 101.3L916.8 100.2L917.3 99.1L917.8 98.1L918.3 97.0L918.8 96.2L919.3 95.6L919.8 94.8L920.3 93.9L920.8 92.9L921.3 92.4L921.8 91.8L922.3 91.3L922.8 90.8L923.3 90.0L923.8 89.6L924.3 89.0L924.8 88.5L925.3 88.0L925.8 87.4L926.3 87.1L926.8 86.8L927.3 86.4L927.8 86.0L928.3 85.4L928.8 84.8L929.3 84.3L929.8 84.1L930.3 84.1L930.8 83.8L931.3 83.5L931.8 83.1L932.3 83.1L932.8 82.8L933.3 82.4L933.8 82.2L934.3 81.8L934.8 81.6L935.3 81.4L935.8 81.2L936.3 81.0L936.8 80.6L937.3 80.3L937.8 80.5L938.3 80.5L938.8 80.6L939.3 80.4L939.8 80.1L940.3 80.0L940.8 79.7L941.3 79.6L941.8 79.3L942.8 117.2L943.3 113.0L943.8 109.6L944.3 106.8L944.8 104.6L945.3 102.8L945.8 101.1L946.3 99.5L946.8 98.0L947.3 97.0L947.8 96.0L948.3 94.8L948.8 93.9L949.3 93.1L949.8 92.2L950.3 91.3L950.8 90.3L951.3 89.5L951.8 88.7L952.3 88.0L952.8 87.5L953.3 86.8L953.8 86.4L954.3 85.6L954.8 85.0L955.3 84.5L955.8 84.1L956.3 83.5L956.8 83.1L957.3 82.9L957.8 82.7L958.3 82.2L958.8 81.7L959.3 81.3L959.8 81.1L960.3 80.8L960.8 80.4L961.3 79.8L961.8 79.4L962.3 79.3L962.8 79.1L963.3 78.8L963.8 78.3L964.3 77.9L964.8 77.8L965.3 77.8L965.8 77.7L966.3 77.8L966.8 77.5L967.3 77.5L967.8 77.0L968.3 76.9L968.8 76.6L969.3 76.5L969.8 76.3L970.3 76.4L970.8 76.4L971.3 76.3L971.8 76.1L972.3 75.8L972.8 75.8L973.3 75.5L974.3 136.8L974.8 131.8L975.3 127.9L975.8 124.7L976.3 122.0L976.8 119.7L977.3 117.7L977.8 115.8L978.3 114.1L978.8 112.8L979.3 111.7L979.8 110.4L980.3 109.5L980.8 108.5L981.3 107.5L981.8 106.3L982.3 105.3L982.8 104.3L983.3 103.2L983.8 102.3L984.3 101.7L984.8 101.0L985.3 100.5L985.8 99.6L986.3 99.1L986.8 98.4L987.3 98.0L987.8 97.6L988.3 96.9L988.8 96.2L989.3 95.3L989.8 95.2L990.3 95.0L990.8 94.8L991.3 94.2L991.8 93.6L992.3 93.1L992.8 92.8L993.3 92.6L993.8 92.3L994.3 91.7L994.8 91.5L995.3 91.2L995.8 91.0L996.3 90.4L996.8 90.3L997.3 90.2L997.8 90.0L998.3 89.8L998.8 89.6L999.3 89.7L999.8 89.3L1000.3 89.1L1000.8 88.7L1001.3 88.7L1001.3 114.8L1000.8 114.7L1000.3 115.1L999.8 115.2L999.3 115.7L998.8 115.5L998.3 115.6L997.8 115.7L997.3 115.8L996.8 115.9L996.3 115.9L995.8 116.5L995.3 116.6L994.8 116.9L994.3 117.0L993.8 117.6L993.3 117.8L992.8 118.0L992.3 118.1L991.8 118.6L991.3 119.2L990.8 119.6L990.3 119.7L989.8 119.8L989.3 119.7L988.8 120.5L988.3 121.2L987.8 121.8L987.3 122.1L986.8 122.2L986.3 122.9L985.8 123.2L985.3 124.0L984.8 124.3L984.3 124.8L983.8 125.2L983.3 126.0L982.8 126.9L982.3 127.8L981.8 128.7L981.3 129.6L980.8 130.4L980.3 131.2L979.8 131.9L979.3 132.9L978.8 133.8L978.3 135.0L977.8 136.5L977.3 138.3L976.8 140.3L976.3 142.6L975.8 145.5L975.3 149.2L974.8 153.8L974.3 160.0L973.3 99.6L972.8 99.9L972.3 99.9L971.8 100.2L971.3 100.3L970.8 100.5L970.3 100.4L969.8 100.2L969.3 100.4L968.8 100.4L968.3 100.7L967.8 100.7L967.3 101.3L966.8 101.3L966.3 101.5L965.8 101.3L965.3 101.4L964.8 101.2L964.3 101.3L963.8 101.6L963.3 102.2L962.8 102.5L962.3 102.6L961.8 102.6L961.3 103.0L960.8 103.6L960.3 104.0L959.8 104.2L959.3 104.3L958.8 104.6L958.3 105.1L957.8 105.6L957.3 105.5L956.8 105.7L956.3 105.9L955.8 106.5L955.3 106.8L954.8 107.2L954.3 107.7L953.8 108.4L953.3 108.6L952.8 109.2L952.3 109.5L951.8 110.1L951.3 110.8L950.8 111.5L950.3 112.5L949.8 113.2L949.3 113.9L948.8 114.5L948.3 115.3L947.8 116.4L947.3 117.2L946.8 118.0L946.3 119.5L945.8 121.1L945.3 122.9L944.8 124.7L944.3 127.2L943.8 130.5L943.3 134.6L942.8 140.0L941.8 102.7L941.3 103.0L940.8 103.1L940.3 103.4L939.8 103.5L939.3 103.8L938.8 104.0L938.3 103.8L937.8 103.7L937.3 103.4L936.8 103.7L936.3 104.1L935.8 104.2L935.3 104.4L934.8 104.6L934.3 104.7L933.8 105.2L933.3 105.3L932.8 105.8L932.3 105.9L931.8 105.9L931.3 106.3L930.8 106.4L930.3 106.8L929.8 106.6L929.3 106.7L928.8 107.1L928.3 107.7L927.8 108.3L927.3 108.7L926.8 108.9L926.3 109.1L925.8 109.3L925.3 109.8L924.8 110.3L924.3 110.6L923.8 111.1L923.3 111.4L922.8 112.1L922.3 112.5L921.8 112.9L921.3 113.3L920.8 113.5L920.3 114.5L919.8 115.3L919.3 115.9L918.8 116.3L918.3 116.9L917.8 117.9L917.3 118.8L916.8 119.7L916.3 120.6L915.8 121.8L915.3 122.7L914.8 124.0L914.3 125.5L913.8 127.3L913.3 129.5L912.8 132.4L912.3 135.9L911.8 140.2L911.3 146.0L910.3 111.4L909.8 111.4L909.3 111.3L908.8 111.5L908.3 111.8L907.8 112.2L907.3 112.3L906.8 112.3L906.3 112.4L905.8 112.4L905.3 112.2L904.8 112.3L904.3 112.1L903.8 112.4L903.3 112.5L902.8 112.9L902.3 112.9L901.8 112.9L901.3 112.7L900.8 112.8L900.3 112.8L899.8 112.8L899.3 112.8L898.8 113.1L898.3 113.3L897.8 113.8L897.3 113.7L896.8 113.7L896.3 114.0L895.8 114.4L895.3 114.6L894.8 114.8L894.3 115.0L893.8 115.6L893.3 115.5L892.8 115.5L892.3 115.8L891.8 116.2L891.3 116.6L890.8 116.6L890.3 116.8L889.8 117.2L889.3 117.4L888.8 117.9L888.3 118.0L887.8 118.5L887.3 118.5L886.8 118.9L886.3 119.0L885.8 119.8L885.3 120.2L884.8 121.1L884.3 121.7L883.8 122.4L883.3 122.9L882.8 123.7L882.3 124.4L881.8 125.4L881.3 126.8L880.8 128.6L880.3 130.9L879.8 134.0L878.8 101.7L878.3 101.9L877.8 102.4L877.3 102.4L876.8 102.3L876.3 102.0L875.8 102.0L875.3 102.2L874.8 102.4L874.3 102.4L873.8 102.7L873.3 102.9L872.8 103.4L872.3 103.3L871.8 103.4L871.3 103.3L870.8 103.8L870.3 104.2L869.8 104.7L869.3 104.7L868.8 104.9L868.3 105.1L867.8 105.2L867.3 105.3L866.8 105.1L866.3 105.4L865.8 105.9L865.3 106.5L864.8 106.8L864.3 106.9L863.8 106.9L863.3 107.2L862.8 107.8L862.3 108.3L861.8 108.9L861.3 109.4L860.8 109.9L860.3 110.3L859.8 110.8L859.3 111.2L858.8 111.5L858.3 111.9L857.8 112.7L857.3 113.2L856.8 113.6L856.3 114.1L855.8 114.7L855.3 115.5L854.8 116.5L854.3 117.5L853.8 118.5L853.3 119.5L852.8 120.5L852.3 121.7L851.8 122.7L851.3 124.0L850.8 125.7L850.3 128.0L849.8 130.7L849.3 134.2L848.8 138.4L848.3 144.0L847.3 99.7L846.8 99.8L846.3 99.8L845.8 100.1L845.3 100.0L844.8 99.9L844.3 100.1L843.8 100.6L843.3 100.9L842.8 101.1L842.3 100.8L841.8 101.2L841.3 100.9L840.8 101.0L840.3 101.1L839.8 101.5L839.3 102.0L838.8 102.1L838.3 102.4L837.8 102.3L837.3 102.2L836.8 102.4L836.3 102.9L835.8 103.2L835.3 103.2L834.8 103.6L834.3 104.1L833.8 104.3L833.3 104.6L832.8 104.8L832.3 105.2L831.8 105.4L831.3 106.0L830.8 106.4L830.3 106.9L829.8 107.2L829.3 107.7L828.8 107.9L828.3 108.4L827.8 108.8L827.3 109.1L826.8 109.4L826.3 109.9L825.8 110.9L825.3 111.5L824.8 112.4L824.3 112.7L823.8 113.7L823.3 114.2L822.8 115.2L822.3 116.1L821.8 117.0L821.3 118.2L820.8 119.0L820.3 120.5L819.8 121.7L819.3 123.7L818.8 126.0L818.3 128.8L817.8 132.1L817.3 136.3L816.8 142.0L815.8 100.2L815.3 100.3L814.8 100.5L814.3 100.3L813.8 100.2L813.3 100.3L812.8 100.4L812.3 100.8L811.8 100.7L811.3 100.9L810.8 100.9L810.3 101.2L809.8 101.4L809.3 101.3L808.8 101.1L808.3 101.0L807.8 101.1L807.3 101.3L806.8 101.4L806.3 101.7L805.8 102.2L805.3 102.3L804.8 102.6L804.3 102.8L803.8 103.4L803.3 103.5L802.8 103.7L802.3 104.0L801.8 104.2L801.3 104.5L800.8 104.7L800.3 105.1L799.8 105.8L799.3 106.0L798.8 106.3L798.3 106.6L797.8 107.0L797.3 107.4L796.8 107.8L796.3 108.0L795.8 108.8L795.3 109.1L794.8 110.0L794.3 110.2L793.8 111.1L793.3 111.6L792.8 112.4L792.3 112.9L791.8 113.2L791.3 114.1L790.8 115.0L790.3 116.2L789.8 117.0L789.3 118.2L788.8 119.2L788.3 120.8L787.8 122.7L787.3 124.7L786.8 127.3L786.3 130.5L785.8 134.6L785.3 140.0L784.3 109.0L783.8 109.1L783.3 109.5L782.8 109.6L782.3 109.7L781.8 109.8L781.3 110.1L780.8 110.5L780.3 110.8L779.8 110.9L779.3 111.0L778.8 110.8L778.3 110.9L777.8 111.0L777.3 111.5L776.8 111.9L776.3 112.1L775.8 112.3L775.3 112.6L774.8 113.1L774.3 113.1L773.8 113.5L773.3 113.7L772.8 114.1L772.3 114.3L771.8 114.4L771.3 114.7L770.8 114.8L770.3 115.4L769.8 116.0L769.3 116.5L768.8 116.6L768.3 117.0L767.8 117.4L767.3 118.0L766.8 118.4L766.3 119.0L765.8 119.4L765.3 119.9L764.8 120.6L764.3 121.6L763.8 122.1L763.3 122.6L762.8 123.0L762.3 123.8L761.8 124.6L761.3 125.4L760.8 126.5L760.3 127.4L759.8 128.6L759.3 129.8L758.8 131.2L758.3 132.4L757.8 133.6L757.3 135.1L756.8 137.3L756.3 139.6L755.8 142.2L755.3 145.4L754.8 149.6L754.3 155.0L753.8 162.0L752.8 120.4L752.3 120.7L751.8 120.6L751.3 120.7L750.8 120.8L750.3 121.0L749.8 121.4L749.3 121.8L748.8 122.4L748.3 122.7L747.8 123.0L747.3 123.1L746.8 123.4L746.3 123.7L745.8 124.3L745.3 124.5L744.8 124.6L744.3 124.6L743.8 125.0L743.3 125.3L742.8 125.7L742.3 126.3L741.8 127.1L741.3 127.6L740.8 127.8L740.3 128.4L739.8 129.2L739.3 129.9L738.8 130.2L738.3 130.6L737.8 131.4L737.3 132.3L736.8 133.3L736.3 133.8L735.8 134.6L735.3 135.2L734.8 136.0L734.3 136.9L733.8 138.0L733.3 139.0L732.8 140.0L732.3 141.2L731.8 142.6L731.3 143.9L730.8 145.1L730.3 146.3L729.8 147.8L729.3 149.1L728.8 150.7L728.3 152.4L727.8 154.4L727.3 156.6L726.8 158.8L726.3 161.4L725.8 163.7L725.3 166.8L724.8 170.3L724.3 175.0L723.8 180.4L723.3 187.4L722.8 196.3L722.3 208.0L723.5 179.0L722.9 181.1L722.2 183.4L721.6 185.8L720.9 188.4L720.3 191.1L719.6 193.9L719.0 196.9L718.4 200.0L717.7 203.4L717.1 206.9L716.4 210.5L715.8 214.1L715.1 217.9L714.5 221.8L713.9 225.8L713.2 229.9L712.6 233.4L711.9 236.6L711.3 239.8L710.6 243.1L710.0 246.5L709.4 249.9L708.7 253.4L708.1 256.8L707.4 260.4L706.8 263.9L706.1 267.5L705.5 270.6L704.9 273.6L704.2 276.6L703.6 279.6L702.9 282.7L702.3 285.7L701.6 288.8L701.0 292.0L700.4 295.2L699.7 298.5L699.1 300.7L698.4 302.6L697.8 304.5Z" fill="#0072b2" fill-opacity="0.30" stroke="none"/>
<path d="M697.2 304.5L697.8 302.6L698.4 300.7L699.0 298.5L699.7 295.2L700.3 292.0L700.9 288.8L701.5 285.7L702.1 282.6L702.8 279.6L703.4 276.5L704.0 273.5L704.6 270.5L705.2 267.3L705.8 263.7L706.5 260.1L707.1 256.5L707.7 253.0L708.3 249.4L708.9 245.9L709.5 242.5L710.2 239.0L710.8 235.6L711.4 232.2L712.0 228.5L712.6 224.2L713.3 220.0L713.9 215.8L714.5 211.7L715.1 207.6L715.7 203.7L716.3 199.8L717.0 195.9L717.6 192.3L718.2 188.8L718.8 185.3L719.4 182.0L720.0 178.7L720.7 175.6L721.3 172.5L721.9 169.6L722.3 197.0L722.8 188.2L723.3 181.2L723.8 175.5L724.3 170.8L724.8 167.0L725.3 163.2L725.8 159.8L726.3 156.9L726.8 154.3L727.3 151.7L727.8 149.5L728.3 147.6L728.8 146.0L729.3 143.9L729.8 142.3L730.3 140.4L730.8 139.3L731.3 137.6L731.8 136.2L732.3 134.7L732.8 133.6L733.3 132.6L733.8 131.1L734.3 129.7L734.8 128.5L735.3 127.5L735.8 127.0L736.3 126.3L736.8 125.2L737.3 123.8L737.8 122.4L738.3 122.1L738.8 121.4L739.3 121.2L739.8 120.4L740.3 120.1L740.8 118.9L741.3 118.2L741.8 117.5L742.3 117.1L742.8 116.8L743.3 116.3L743.8 116.1L744.3 115.1L744.8 114.6L745.3 113.7L745.8 113.6L746.3 113.0L746.8 113.2L747.3 112.5L747.8 112.6L748.3 112.2L748.8 112.5L749.3 112.0L749.8 111.6L750.3 110.9L750.8 110.9L751.3 110.4L751.8 110.3L752.3 109.6L752.8 109.3L753.8 150.0L754.3 144.8L754.8 140.6L755.3 137.2L755.8 134.3L756.3 132.1L756.8 130.2L757.3 128.4L757.8 126.5L758.3 124.8L758.8 123.4L759.3 122.3L759.8 121.2L760.3 120.2L760.8 118.8L761.3 117.5L761.8 116.7L762.3 116.0L762.8 115.2L763.3 114.5L763.8 113.5L764.3 112.7L764.8 111.6L765.3 110.9L765.8 110.5L766.3 110.1L766.8 109.6L767.3 108.7L767.8 108.0L768.3 107.7L768.8 107.1L769.3 106.7L769.8 106.1L770.3 105.9L770.8 105.5L771.3 104.9L771.8 104.4L772.3 104.0L772.8 103.8L773.3 103.3L773.8 103.0L774.3 102.9L774.8 102.6L775.3 101.9L775.8 101.5L776.3 101.1L776.8 101.0L777.3 100.5L777.8 100.2L778.3 100.3L778.8 100.5L779.3 100.6L779.8 99.9L780.3 99.5L780.8 99.2L781.3 99.6L781.8 99.3L782.3 99.1L782.8 99.0L783.3 98.9L783.8 99.1L784.3 98.7L785.3 128.0L785.8 124.0L786.3 120.9L786.8 118.4L787.3 116.3L787.8 114.6L788.3 113.0L788.8 111.4L789.3 110.0L789.8 109.0L790.3 108.1L790.8 107.0L791.3 106.3L791.8 105.2L792.3 104.5L792.8 103.7L793.3 103.2L793.8 102.2L794.3 101.0L794.8 100.4L795.3 100.1L795.8 99.4L796.3 98.5L796.8 98.1L797.3 97.8L797.8 97.4L798.3 96.4L798.8 96.0L799.3 95.5L799.8 95.1L800.3 94.5L800.8 94.6L801.3 94.6L801.8 94.1L802.3 93.6L802.8 92.9L803.3 93.1L803.8 92.9L804.3 93.2L804.8 92.8L805.3 92.3L805.8 91.8L806.3 91.5L806.8 91.5L807.3 91.3L807.8 91.3L808.3 90.7L808.8 90.3L809.3 90.0L809.8 89.9L810.3 90.1L810.8 89.7L811.3 89.8L811.8 89.4L812.3 89.4L812.8 89.0L813.3 89.1L813.8 89.2L814.3 89.4L814.8 89.2L815.3 89.2L815.8 88.9L816.8 130.0L817.3 125.8L817.8 122.4L818.3 119.6L818.8 117.5L819.3 115.4L819.8 113.8L820.3 112.2L820.8 111.3L821.3 110.1L821.8 108.8L822.3 107.8L822.8 106.5L823.3 105.8L823.8 104.5L824.3 103.6L824.8 102.3L825.3 101.5L825.8 101.0L826.3 100.5L826.8 100.3L827.3 99.7L827.8 99.4L828.3 98.5L828.8 98.2L829.3 97.6L829.8 97.2L830.3 96.4L830.8 95.9L831.3 95.7L831.8 95.7L832.3 95.1L832.8 94.3L833.3 93.6L833.8 93.4L834.3 93.4L834.8 93.3L835.3 92.6L835.8 92.0L836.3 91.8L836.8 91.6L837.3 91.3L837.8 90.6L838.3 90.7L838.8 90.8L839.3 90.7L839.8 90.7L840.3 90.2L840.8 90.3L841.3 89.7L841.8 89.8L842.3 89.3L842.8 89.4L843.3 89.3L843.8 89.3L844.3 88.9L844.8 88.5L845.3 88.3L845.8 88.1L846.3 88.2L846.8 88.3L847.3 88.5L848.3 132.4L848.8 128.1L849.3 124.6L849.8 121.7L850.3 119.3L850.8 117.4L851.3 115.7L851.8 114.2L852.3 113.0L852.8 111.6L853.3 110.6L853.8 109.5L854.3 108.3L854.8 107.2L855.3 106.4L855.8 105.8L856.3 105.0L856.8 104.3L857.3 103.2L857.8 102.5L858.3 101.5L858.8 101.0L859.3 100.6L859.8 100.2L860.3 99.7L860.8 99.0L861.3 98.2L861.8 97.6L862.3 97.4L862.8 97.5L863.3 97.5L863.8 97.2L864.3 96.4L864.8 95.5L865.3 94.8L865.8 94.4L866.3 94.1L866.8 93.9L867.3 93.7L867.8 93.8L868.3 93.4L868.8 93.1L869.3 92.9L869.8 92.7L870.3 92.3L870.8 91.7L871.3 91.4L871.8 91.6L872.3 91.9L872.8 91.6L873.3 91.0L873.8 90.7L874.3 90.8L874.8 90.8L875.3 90.4L875.8 90.1L876.3 90.2L876.8 90.2L877.3 90.4L877.8 90.0L878.3 90.0L878.8 89.6L879.8 121.4L880.3 119.1L880.8 117.1L881.3 115.6L881.8 114.4L882.3 113.4L882.8 112.5L883.3 111.6L883.8 110.9L884.3 110.4L884.8 109.4L885.3 108.9L885.8 108.3L886.3 107.8L886.8 107.6L887.3 107.3L887.8 107.2L888.3 106.5L888.8 106.3L889.3 105.6L889.8 105.6L890.3 104.9L890.8 104.4L891.3 103.6L891.8 103.4L892.3 103.4L892.8 103.4L893.3 103.2L893.8 102.7L894.3 102.6L894.8 102.4L895.3 102.6L895.8 102.0L896.3 101.8L896.8 101.3L897.3 101.5L897.8 101.3L898.3 101.1L898.8 101.1L899.3 100.8L899.8 100.5L900.3 99.9L900.8 99.7L901.3 99.6L901.8 99.7L902.3 99.8L902.8 99.7L903.3 99.6L903.8 99.7L904.3 99.4L904.8 99.1L905.3 98.8L905.8 99.0L906.3 99.0L906.8 98.9L907.3 98.6L907.8 98.8L908.3 99.1L908.8 98.9L909.3 98.5L909.8 98.1L910.3 98.2L911.3 134.6L911.8 130.2L912.3 126.7L912.8 123.7L913.3 121.3L913.8 119.4L914.3 117.9L914.8 116.3L915.3 114.8L915.8 113.4L916.3 111.9L916.8 110.8L917.3 110.1L917.8 109.4L918.3 108.6L918.8 107.2L919.3 106.5L919.8 105.3L920.3 104.8L920.8 103.9L921.3 103.3L921.8 102.6L922.3 102.4L922.8 102.2L923.3 101.8L923.8 101.0L924.3 100.3L924.8 99.7L925.3 99.5L925.8 99.1L926.3 98.3L926.8 97.5L927.3 96.9L927.8 96.6L928.3 96.6L928.8 96.5L929.3 96.4L929.8 96.0L930.3 95.1L930.8 94.7L931.3 94.7L931.8 94.6L932.3 94.1L932.8 93.6L933.3 93.7L933.8 93.6L934.3 93.4L934.8 93.2L935.3 93.1L935.8 93.1L936.3 92.4L936.8 91.9L937.3 91.5L937.8 91.8L938.3 91.7L938.8 91.4L939.3 90.7L939.8 90.9L940.3 90.9L940.8 91.1L941.3 91.0L941.8 91.1L942.8 128.0L943.3 123.9L943.8 120.8L944.3 118.2L944.8 116.0L945.3 113.9L945.8 112.5L946.3 110.6L946.8 109.5L947.3 108.3L947.8 107.5L948.3 106.4L948.8 104.9L949.3 104.1L949.8 103.2L950.3 102.5L950.8 101.8L951.3 101.5L951.8 101.0L952.3 100.4L952.8 99.8L953.3 98.9L953.8 97.8L954.3 96.8L954.8 96.4L955.3 96.1L955.8 96.0L956.3 95.6L956.8 95.4L957.3 94.6L957.8 94.2L958.3 93.6L958.8 93.4L959.3 92.8L959.8 92.7L960.3 92.2L960.8 92.1L961.3 91.7L961.8 91.5L962.3 91.3L962.8 90.8L963.3 90.8L963.8 90.5L964.3 90.3L964.8 90.2L965.3 90.2L965.8 90.2L966.3 89.8L966.8 89.2L967.3 89.2L967.8 88.9L968.3 89.0L968.8 88.9L969.3 88.8L969.8 88.6L970.3 88.1L970.8 88.1L971.3 88.1L971.8 88.1L972.3 88.1L972.8 88.2L973.3 88.3L974.3 147.7L974.8 142.8L975.3 138.9L975.8 135.7L976.3 133.3L976.8 131.1L977.3 129.0L977.8 126.9L978.3 125.2L978.8 123.6L979.3 122.4L979.8 121.1L980.3 120.3L980.8 119.4L981.3 118.4L981.8 117.4L982.3 116.6L982.8 116.2L983.3 115.4L983.8 114.6L984.3 113.6L984.8 112.8L985.3 112.0L985.8 111.1L986.3 110.5L986.8 109.8L987.3 109.6L987.8 108.9L988.3 108.3L988.8 107.9L989.3 107.7L989.8 107.5L990.3 106.8L990.8 106.5L991.3 106.0L991.8 105.5L992.3 104.8L992.8 104.6L993.3 104.4L993.8 103.8L994.3 103.5L994.8 103.1L995.3 103.4L995.8 103.3L996.3 103.2L996.8 102.5L997.3 101.8L997.8 102.0L998.3 101.8L998.8 101.6L999.3 101.0L999.8 100.9L1000.3 101.1L1000.8 101.2L1001.3 101.4" stroke="#0072b2" stroke-width="1.1"/>
</g>
<path d="M672.5 48.3H676.1V305.2M672.5 118.2H676.1M672.5 211.5H676.1M672.5 305.2H1020.4M690.3 305.2V308.6M847.5 305.2V308.6M1005.4 305.2V308.6" stroke="#505050" stroke-width="1.35" fill="none" stroke-linejoin="round"/>
<text x="667.80" y="122.70" font-size="12.1" text-anchor="end" fill="#1a1a1a" >4,000</text>
<text x="669.60" y="216.00" font-size="12.1" text-anchor="end" fill="#1a1a1a" >2,000</text>
<text x="667.80" y="309.00" font-size="12.1" text-anchor="end" fill="#1a1a1a" >0</text>
<text x="690.30" y="323.20" font-size="12.1" text-anchor="middle" fill="#1a1a1a" >0</text>
<text x="822.00" y="323.20" font-size="12.1" textLength="54.00" lengthAdjust="spacing" fill="#1a1a1a" >10  million</text>
<text x="979.70" y="323.20" font-size="12.1" textLength="50.60" lengthAdjust="spacing" fill="#1a1a1a" >20 million</text>
<text x="820.70" y="348.00" font-size="12.1" textLength="52.90" lengthAdjust="spacing" fill="#1a1a1a" >Time step</text>
<text transform="translate(616.3,228.8) rotate(-90)" font-size="12.1" textLength="108.3" lengthAdjust="spacing" fill="#1a1a1a">Reward per episode</text>
<rect x="700.3" y="373.7" width="32.5" height="9.6" fill="#d55e00"/>
<text x="742.10" y="382.70" font-size="12.1" textLength="77.40" lengthAdjust="spacing" fill="#1a1a1a" >Standard PPO</text>
<rect x="700.3" y="397.9" width="32.5" height="9.6" fill="#e69f00"/>
<text x="742.10" y="406.90" font-size="12.1" textLength="61.00" lengthAdjust="spacing" fill="#1a1a1a" >Tuned PPO</text>
<rect x="700.3" y="422.1" width="32.5" height="9.6" fill="#cc79a7"/>
<text x="742.10" y="431.10" font-size="12.1" textLength="177.70" lengthAdjust="spacing" fill="#1a1a1a" >L2 regularization with tuned PPO</text>
<rect x="700.3" y="446.3" width="32.5" height="9.6" fill="#0072b2"/>
<text x="742.10" y="455.30" font-size="12.1" textLength="276.10" lengthAdjust="spacing" fill="#1a1a1a" >Continual backpropagation with L2 and tuned PPO</text>
<text class="cap" x="7.5" y="514" font-size="13" fill="#111" textLength="501.25" lengthAdjust="spacing"><tspan class="b">Fig. 3 | Maintaining plasticity in a non-stationary reinforcement-learning</tspan></text>
<text class="cap" x="7.5" y="534.25" font-size="13" fill="#111" textLength="461.75" lengthAdjust="spacing"><tspan class="b">problem. a</tspan>, The reinforcement-learning agent controls torques at the</text>
<text class="cap" x="7.5" y="554.5" font-size="13" fill="#111" textLength="482.50" lengthAdjust="spacing">eight joints of the simulated ant (red circles) to maximize forward motion</text>
<text class="cap" x="7.5" y="574.75" font-size="13" fill="#111" textLength="456.25" lengthAdjust="spacing">and minimize penalties. <tspan class="b">b</tspan>, Here we use a version of the ant problem in</text>
<text class="cap" x="7.5" y="595" font-size="13" fill="#111" textLength="472.50" lengthAdjust="spacing">which the friction on contact with the ground is abruptly changed every</text>
<text class="cap" x="7.5" y="615.25" font-size="13" fill="#111" textLength="426.25" lengthAdjust="spacing">2 million time steps. <tspan class="b">c</tspan>, The standard PPO learning algorithm fails</text>
<text class="cap" x="546.25" y="514" font-size="13" fill="#111" textLength="487.00" lengthAdjust="spacing">catastrophically on the non-stationary ant problem. If the optimizer of PPO</text>
<text class="cap" x="546.25" y="534.25" font-size="13" fill="#111" textLength="473.75" lengthAdjust="spacing">(Adam) is tuned in a custom way, then the failure is less severe, but adding</text>
<text class="cap" x="546.25" y="554.5" font-size="13" fill="#111" textLength="495.00" lengthAdjust="spacing">continual backpropagation or L2 regularization is necessary to perform well</text>
<text class="cap" x="546.25" y="574.75" font-size="13" fill="#111" textLength="508.75" lengthAdjust="spacing">indefinitely. These results are averaged over 100 runs; the solid lines represent</text>
<text class="cap" x="546.25" y="595" font-size="13" fill="#111" textLength="504.25" lengthAdjust="spacing">the mean and the shaded regions represent the 95% bootstrapped confidence</text>
<text class="cap" x="546.25" y="615.25" font-size="13" fill="#111" textLength="54.50" lengthAdjust="spacing">interval.</text>
</svg></body></html>
